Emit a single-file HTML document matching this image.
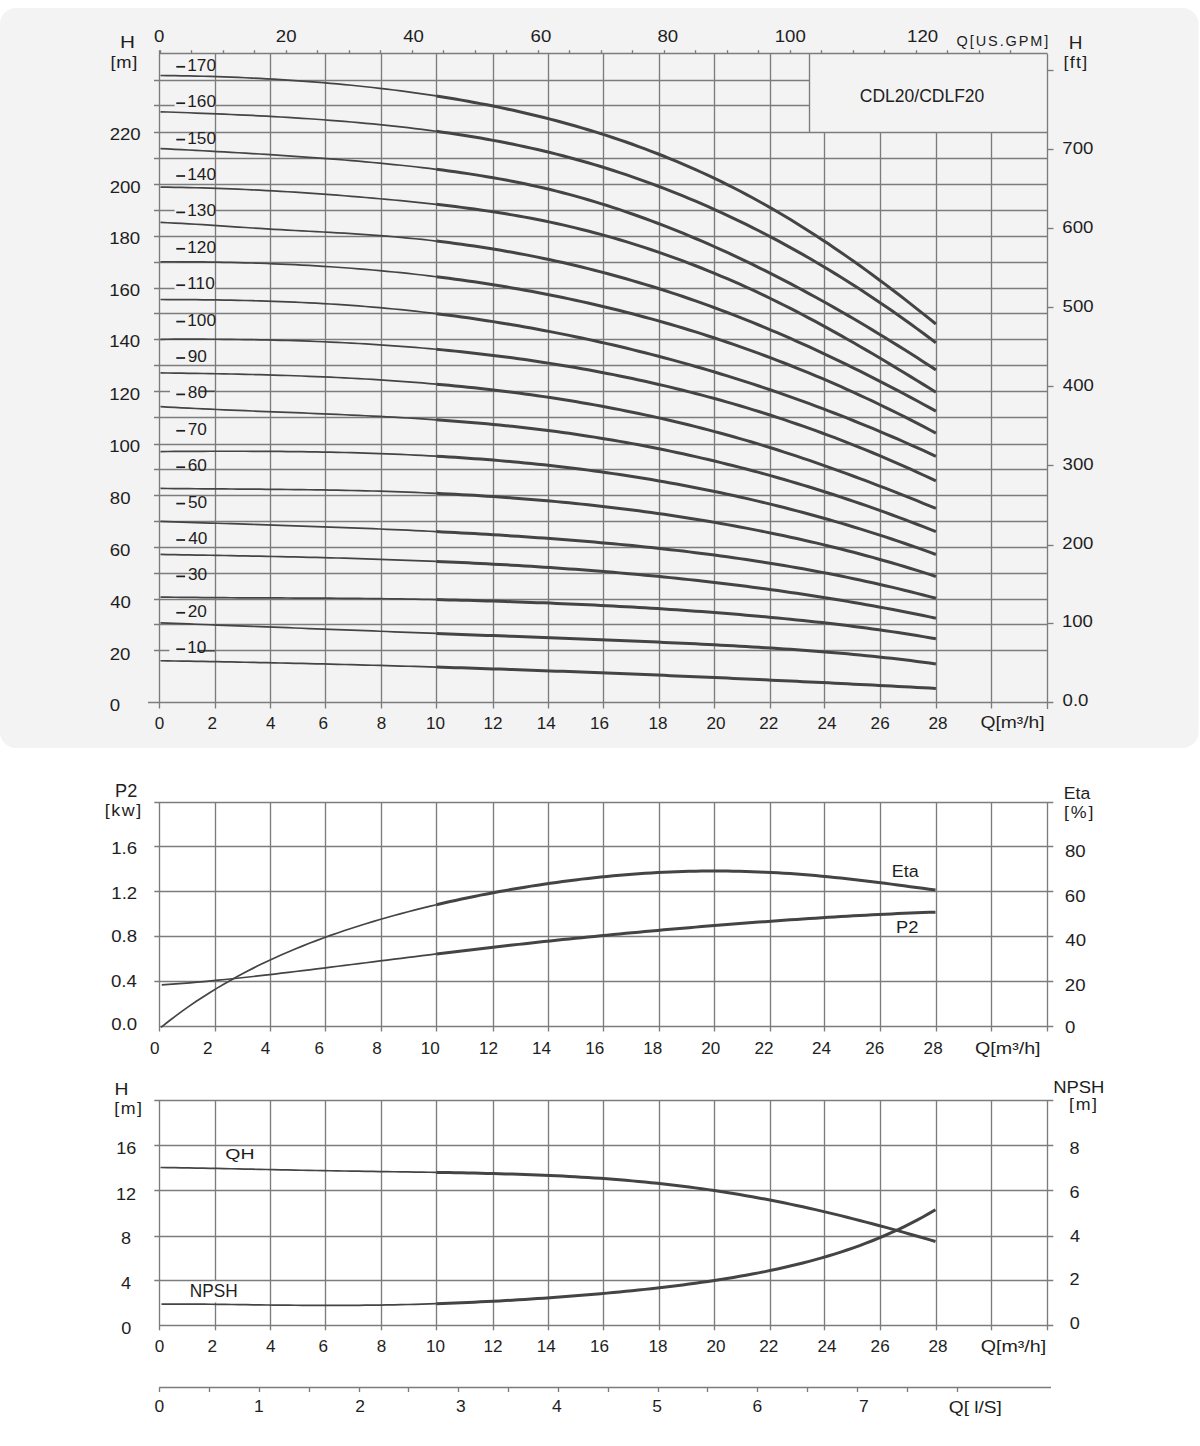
<!DOCTYPE html>
<html><head><meta charset="utf-8"><style>
html,body{margin:0;padding:0;background:#fff;}
svg{display:block;}
text{font-family:"Liberation Sans",sans-serif;}
</style></head><body>
<svg width="1200" height="1446" viewBox="0 0 1200 1446" shape-rendering="geometricPrecision">
<rect x="0" y="8" width="1198.5" height="740" rx="16" ry="16" fill="#f3f3f3"/>
<line x1="154.00" y1="80.50" x2="809.90" y2="80.50" stroke="#7c7c7c" stroke-width="1.35"/>
<line x1="154.00" y1="105.50" x2="809.90" y2="105.50" stroke="#7c7c7c" stroke-width="1.35"/>
<line x1="154.00" y1="132.50" x2="1047.60" y2="132.50" stroke="#7c7c7c" stroke-width="1.35"/>
<line x1="154.00" y1="158.50" x2="1047.60" y2="158.50" stroke="#7c7c7c" stroke-width="1.35"/>
<line x1="154.00" y1="184.50" x2="1047.60" y2="184.50" stroke="#7c7c7c" stroke-width="1.35"/>
<line x1="154.00" y1="210.50" x2="1047.60" y2="210.50" stroke="#7c7c7c" stroke-width="1.35"/>
<line x1="154.00" y1="236.50" x2="1047.60" y2="236.50" stroke="#7c7c7c" stroke-width="1.35"/>
<line x1="154.00" y1="262.50" x2="1047.60" y2="262.50" stroke="#7c7c7c" stroke-width="1.35"/>
<line x1="154.00" y1="288.50" x2="1047.60" y2="288.50" stroke="#7c7c7c" stroke-width="1.35"/>
<line x1="154.00" y1="313.50" x2="1047.60" y2="313.50" stroke="#7c7c7c" stroke-width="1.35"/>
<line x1="154.00" y1="339.50" x2="1047.60" y2="339.50" stroke="#7c7c7c" stroke-width="1.35"/>
<line x1="154.00" y1="365.50" x2="1047.60" y2="365.50" stroke="#7c7c7c" stroke-width="1.35"/>
<line x1="154.00" y1="391.50" x2="1047.60" y2="391.50" stroke="#7c7c7c" stroke-width="1.35"/>
<line x1="154.00" y1="417.50" x2="1047.60" y2="417.50" stroke="#7c7c7c" stroke-width="1.35"/>
<line x1="154.00" y1="444.50" x2="1047.60" y2="444.50" stroke="#7c7c7c" stroke-width="1.35"/>
<line x1="154.00" y1="469.50" x2="1047.60" y2="469.50" stroke="#7c7c7c" stroke-width="1.35"/>
<line x1="154.00" y1="495.50" x2="1047.60" y2="495.50" stroke="#7c7c7c" stroke-width="1.35"/>
<line x1="154.00" y1="521.50" x2="1047.60" y2="521.50" stroke="#7c7c7c" stroke-width="1.35"/>
<line x1="154.00" y1="547.50" x2="1047.60" y2="547.50" stroke="#7c7c7c" stroke-width="1.35"/>
<line x1="154.00" y1="573.50" x2="1047.60" y2="573.50" stroke="#7c7c7c" stroke-width="1.35"/>
<line x1="154.00" y1="599.50" x2="1047.60" y2="599.50" stroke="#7c7c7c" stroke-width="1.35"/>
<line x1="154.00" y1="624.50" x2="1047.60" y2="624.50" stroke="#7c7c7c" stroke-width="1.35"/>
<line x1="154.00" y1="650.50" x2="1047.60" y2="650.50" stroke="#7c7c7c" stroke-width="1.35"/>
<line x1="148.00" y1="702.50" x2="1053.30" y2="702.50" stroke="#7c7c7c" stroke-width="1.35"/>
<line x1="159.60" y1="53.50" x2="1047.60" y2="53.50" stroke="#7c7c7c" stroke-width="1.35"/>
<line x1="159.50" y1="50.30" x2="159.50" y2="708.50" stroke="#7c7c7c" stroke-width="1.35"/>
<line x1="215.50" y1="53.90" x2="215.50" y2="708.50" stroke="#7c7c7c" stroke-width="1.35"/>
<line x1="270.50" y1="53.90" x2="270.50" y2="708.50" stroke="#7c7c7c" stroke-width="1.35"/>
<line x1="325.50" y1="53.90" x2="325.50" y2="708.50" stroke="#7c7c7c" stroke-width="1.35"/>
<line x1="381.50" y1="53.90" x2="381.50" y2="708.50" stroke="#7c7c7c" stroke-width="1.35"/>
<line x1="436.50" y1="53.90" x2="436.50" y2="708.50" stroke="#7c7c7c" stroke-width="1.35"/>
<line x1="493.50" y1="53.90" x2="493.50" y2="708.50" stroke="#7c7c7c" stroke-width="1.35"/>
<line x1="548.50" y1="53.90" x2="548.50" y2="708.50" stroke="#7c7c7c" stroke-width="1.35"/>
<line x1="603.50" y1="53.90" x2="603.50" y2="708.50" stroke="#7c7c7c" stroke-width="1.35"/>
<line x1="659.50" y1="53.90" x2="659.50" y2="708.50" stroke="#7c7c7c" stroke-width="1.35"/>
<line x1="714.50" y1="53.90" x2="714.50" y2="708.50" stroke="#7c7c7c" stroke-width="1.35"/>
<line x1="770.50" y1="53.90" x2="770.50" y2="708.50" stroke="#7c7c7c" stroke-width="1.35"/>
<line x1="824.50" y1="132.30" x2="824.50" y2="708.50" stroke="#7c7c7c" stroke-width="1.35"/>
<line x1="880.50" y1="132.30" x2="880.50" y2="708.50" stroke="#7c7c7c" stroke-width="1.35"/>
<line x1="936.50" y1="132.30" x2="936.50" y2="708.50" stroke="#7c7c7c" stroke-width="1.35"/>
<line x1="991.50" y1="132.30" x2="991.50" y2="708.50" stroke="#7c7c7c" stroke-width="1.35"/>
<line x1="1047.50" y1="53.90" x2="1047.50" y2="709.00" stroke="#7c7c7c" stroke-width="1.35"/>
<line x1="809.50" y1="53.90" x2="809.50" y2="132.30" stroke="#7c7c7c" stroke-width="1.35"/>
<line x1="160.50" y1="50.20" x2="160.50" y2="53.90" stroke="#7c7c7c" stroke-width="1.35"/>
<line x1="191.50" y1="50.20" x2="191.50" y2="53.90" stroke="#7c7c7c" stroke-width="1.35"/>
<line x1="223.50" y1="50.20" x2="223.50" y2="53.90" stroke="#7c7c7c" stroke-width="1.35"/>
<line x1="254.50" y1="50.20" x2="254.50" y2="53.90" stroke="#7c7c7c" stroke-width="1.35"/>
<line x1="286.50" y1="50.20" x2="286.50" y2="53.90" stroke="#7c7c7c" stroke-width="1.35"/>
<line x1="317.50" y1="50.20" x2="317.50" y2="53.90" stroke="#7c7c7c" stroke-width="1.35"/>
<line x1="349.50" y1="50.20" x2="349.50" y2="53.90" stroke="#7c7c7c" stroke-width="1.35"/>
<line x1="380.50" y1="50.20" x2="380.50" y2="53.90" stroke="#7c7c7c" stroke-width="1.35"/>
<line x1="412.50" y1="50.20" x2="412.50" y2="53.90" stroke="#7c7c7c" stroke-width="1.35"/>
<line x1="443.50" y1="50.20" x2="443.50" y2="53.90" stroke="#7c7c7c" stroke-width="1.35"/>
<line x1="475.50" y1="50.20" x2="475.50" y2="53.90" stroke="#7c7c7c" stroke-width="1.35"/>
<line x1="506.50" y1="50.20" x2="506.50" y2="53.90" stroke="#7c7c7c" stroke-width="1.35"/>
<line x1="538.50" y1="50.20" x2="538.50" y2="53.90" stroke="#7c7c7c" stroke-width="1.35"/>
<line x1="569.50" y1="50.20" x2="569.50" y2="53.90" stroke="#7c7c7c" stroke-width="1.35"/>
<line x1="601.50" y1="50.20" x2="601.50" y2="53.90" stroke="#7c7c7c" stroke-width="1.35"/>
<line x1="632.50" y1="50.20" x2="632.50" y2="53.90" stroke="#7c7c7c" stroke-width="1.35"/>
<line x1="664.50" y1="50.20" x2="664.50" y2="53.90" stroke="#7c7c7c" stroke-width="1.35"/>
<line x1="695.50" y1="50.20" x2="695.50" y2="53.90" stroke="#7c7c7c" stroke-width="1.35"/>
<line x1="727.50" y1="50.20" x2="727.50" y2="53.90" stroke="#7c7c7c" stroke-width="1.35"/>
<line x1="758.50" y1="50.20" x2="758.50" y2="53.90" stroke="#7c7c7c" stroke-width="1.35"/>
<line x1="790.50" y1="50.20" x2="790.50" y2="53.90" stroke="#7c7c7c" stroke-width="1.35"/>
<line x1="821.50" y1="50.20" x2="821.50" y2="53.90" stroke="#7c7c7c" stroke-width="1.35"/>
<line x1="853.50" y1="50.20" x2="853.50" y2="53.90" stroke="#7c7c7c" stroke-width="1.35"/>
<line x1="884.50" y1="50.20" x2="884.50" y2="53.90" stroke="#7c7c7c" stroke-width="1.35"/>
<line x1="916.50" y1="50.20" x2="916.50" y2="53.90" stroke="#7c7c7c" stroke-width="1.35"/>
<line x1="947.50" y1="50.20" x2="947.50" y2="53.90" stroke="#7c7c7c" stroke-width="1.35"/>
<line x1="979.50" y1="50.20" x2="979.50" y2="53.90" stroke="#7c7c7c" stroke-width="1.35"/>
<line x1="1010.50" y1="50.20" x2="1010.50" y2="53.90" stroke="#7c7c7c" stroke-width="1.35"/>
<line x1="1047.60" y1="623.50" x2="1053.50" y2="623.50" stroke="#7c7c7c" stroke-width="1.35"/>
<line x1="1047.60" y1="545.50" x2="1053.50" y2="545.50" stroke="#7c7c7c" stroke-width="1.35"/>
<line x1="1047.60" y1="465.50" x2="1053.50" y2="465.50" stroke="#7c7c7c" stroke-width="1.35"/>
<line x1="1047.60" y1="386.50" x2="1053.50" y2="386.50" stroke="#7c7c7c" stroke-width="1.35"/>
<line x1="1047.60" y1="307.50" x2="1053.50" y2="307.50" stroke="#7c7c7c" stroke-width="1.35"/>
<line x1="1047.60" y1="228.50" x2="1053.50" y2="228.50" stroke="#7c7c7c" stroke-width="1.35"/>
<line x1="1047.60" y1="149.50" x2="1053.50" y2="149.50" stroke="#7c7c7c" stroke-width="1.35"/>
<line x1="1047.60" y1="70.50" x2="1053.50" y2="70.50" stroke="#7c7c7c" stroke-width="1.35"/>
<rect x="174.60" y="208.60" width="39.80" height="3.20" fill="#f3f3f3"/>
<rect x="174.60" y="286.60" width="39.80" height="3.20" fill="#f3f3f3"/>
<rect x="174.60" y="103.50" width="39.80" height="3.20" fill="#f3f3f3"/>
<rect x="170.00" y="389.70" width="30.00" height="3.20" fill="#f3f3f3"/>
<line x1="200.00" y1="391.30" x2="214.80" y2="391.30" stroke="#444444" stroke-width="1.5"/>
<rect x="169.30" y="649.20" width="28.00" height="3.20" fill="#f3f3f3"/>
<line x1="197.30" y1="650.80" x2="214.80" y2="650.80" stroke="#444444" stroke-width="1.5"/>
<path d="M160.50,75.49 L167.57,75.56 L174.64,75.66 L181.72,75.78 L188.79,75.91 L195.86,76.07 L202.93,76.24 L210.00,76.44 L217.07,76.65 L224.15,76.89 L231.22,77.15 L238.29,77.43 L245.36,77.74 L252.43,78.06 L259.51,78.41 L266.58,78.79 L273.65,79.18 L280.72,79.61 L287.79,80.05 L294.86,80.53 L301.94,81.03 L309.01,81.55 L316.08,82.10 L323.15,82.68 L330.22,83.28 L337.29,83.92 L344.37,84.58 L351.44,85.27 L358.51,85.99 L365.58,86.73 L372.65,87.51 L379.73,88.32 L386.80,89.16 L393.87,90.03 L400.94,90.93 L408.01,91.87 L415.08,92.84 L422.16,93.84 L429.23,94.88 L436.30,95.96" fill="none" stroke="#444444" stroke-width="1.7" stroke-linejoin="round"/>
<path d="M436.30,95.96 L442.62,96.95 L448.95,97.98 L455.27,99.04 L461.60,100.13 L467.92,101.25 L474.24,102.41 L480.57,103.60 L486.89,104.83 L493.22,106.09 L499.54,107.39 L505.86,108.72 L512.19,110.09 L518.51,111.51 L524.84,112.95 L531.16,114.44 L537.48,115.97 L543.81,117.54 L550.13,119.16 L556.46,120.81 L562.78,122.51 L569.11,124.25 L575.43,126.03 L581.75,127.87 L588.08,129.75 L594.40,131.67 L600.73,133.65 L607.05,135.67 L613.37,137.74 L619.70,139.87 L626.02,142.04 L632.35,144.27 L638.67,146.55 L644.99,148.89 L651.32,151.28 L657.64,153.73 L663.97,156.23 L670.29,158.79 L676.61,161.41 L682.94,164.09 L689.26,166.83 L695.59,169.64 L701.91,172.50 L708.23,175.43 L714.56,178.42 L720.88,181.47 L727.21,184.59 L733.53,187.78 L739.85,191.03 L746.18,194.35 L752.50,197.75 L758.83,201.21 L765.15,204.74 L771.47,208.34 L777.80,212.01 L784.12,215.76 L790.45,219.57 L796.77,223.46 L803.09,227.41 L809.42,231.43 L815.74,235.51 L822.07,239.66 L828.39,243.87 L834.72,248.14 L841.04,252.47 L847.36,256.86 L853.69,261.31 L860.01,265.82 L866.34,270.39 L872.66,275.01 L878.98,279.68 L885.31,284.41 L891.63,289.19 L897.96,294.02 L904.28,298.90 L910.60,303.83 L916.93,308.81 L923.25,313.83 L929.58,318.90 L935.90,324.02" fill="none" stroke="#444444" stroke-width="3.0" stroke-linejoin="round"/>
<path d="M160.50,111.78 L167.57,112.02 L174.64,112.27 L181.72,112.52 L188.79,112.77 L195.86,113.04 L202.93,113.31 L210.00,113.59 L217.07,113.87 L224.15,114.17 L231.22,114.48 L238.29,114.80 L245.36,115.13 L252.43,115.47 L259.51,115.83 L266.58,116.20 L273.65,116.59 L280.72,116.99 L287.79,117.41 L294.86,117.84 L301.94,118.29 L309.01,118.76 L316.08,119.25 L323.15,119.77 L330.22,120.30 L337.29,120.85 L344.37,121.42 L351.44,122.02 L358.51,122.64 L365.58,123.29 L372.65,123.96 L379.73,124.65 L386.80,125.37 L393.87,126.12 L400.94,126.90 L408.01,127.71 L415.08,128.55 L422.16,129.43 L429.23,130.34 L436.30,131.28" fill="none" stroke="#444444" stroke-width="1.7" stroke-linejoin="round"/>
<path d="M436.30,131.28 L442.62,132.16 L448.95,133.07 L455.27,134.01 L461.60,134.98 L467.92,135.99 L474.24,137.03 L480.57,138.10 L486.89,139.22 L493.22,140.37 L499.54,141.55 L505.86,142.78 L512.19,144.05 L518.51,145.36 L524.84,146.72 L531.16,148.11 L537.48,149.55 L543.81,151.04 L550.13,152.57 L556.46,154.15 L562.78,155.78 L569.11,157.45 L575.43,159.18 L581.75,160.95 L588.08,162.76 L594.40,164.63 L600.73,166.55 L607.05,168.51 L613.37,170.52 L619.70,172.59 L626.02,174.70 L632.35,176.86 L638.67,179.07 L644.99,181.33 L651.32,183.64 L657.64,186.00 L663.97,188.41 L670.29,190.87 L676.61,193.39 L682.94,195.95 L689.26,198.57 L695.59,201.23 L701.91,203.95 L708.23,206.72 L714.56,209.55 L720.88,212.42 L727.21,215.35 L733.53,218.33 L739.85,221.36 L746.18,224.45 L752.50,227.59 L758.83,230.78 L765.15,234.03 L771.47,237.33 L777.80,240.68 L784.12,244.09 L790.45,247.56 L796.77,251.08 L803.09,254.65 L809.42,258.28 L815.74,261.96 L822.07,265.70 L828.39,269.50 L834.72,273.35 L841.04,277.25 L847.36,281.22 L853.69,285.24 L860.01,289.31 L866.34,293.45 L872.66,297.64 L878.98,301.88 L885.31,306.19 L891.63,310.55 L897.96,314.97 L904.28,319.45 L910.60,323.99 L916.93,328.59 L923.25,333.24 L929.58,337.95 L935.90,342.73" fill="none" stroke="#444444" stroke-width="3.0" stroke-linejoin="round"/>
<path d="M160.50,148.54 L167.57,148.91 L174.64,149.28 L181.72,149.65 L188.79,150.02 L195.86,150.40 L202.93,150.77 L210.00,151.16 L217.07,151.54 L224.15,151.94 L231.22,152.34 L238.29,152.74 L245.36,153.16 L252.43,153.58 L259.51,154.00 L266.58,154.44 L273.65,154.89 L280.72,155.35 L287.79,155.82 L294.86,156.29 L301.94,156.79 L309.01,157.29 L316.08,157.81 L323.15,158.34 L330.22,158.88 L337.29,159.44 L344.37,160.02 L351.44,160.61 L358.51,161.22 L365.58,161.84 L372.65,162.48 L379.73,163.15 L386.80,163.83 L393.87,164.53 L400.94,165.25 L408.01,166.00 L415.08,166.78 L422.16,167.58 L429.23,168.42 L436.30,169.29" fill="none" stroke="#444444" stroke-width="1.7" stroke-linejoin="round"/>
<path d="M436.30,169.29 L442.62,170.10 L448.95,170.94 L455.27,171.80 L461.60,172.71 L467.92,173.64 L474.24,174.61 L480.57,175.62 L486.89,176.66 L493.22,177.75 L499.54,178.88 L505.86,180.05 L512.19,181.26 L518.51,182.52 L524.84,183.83 L531.16,185.19 L537.48,186.59 L543.81,188.05 L550.13,189.56 L556.46,191.13 L562.78,192.75 L569.11,194.42 L575.43,196.14 L581.75,197.92 L588.08,199.75 L594.40,201.63 L600.73,203.57 L607.05,205.55 L613.37,207.59 L619.70,209.67 L626.02,211.81 L632.35,214.00 L638.67,216.23 L644.99,218.51 L651.32,220.85 L657.64,223.23 L663.97,225.65 L670.29,228.13 L676.61,230.65 L682.94,233.22 L689.26,235.84 L695.59,238.50 L701.91,241.20 L708.23,243.95 L714.56,246.75 L720.88,249.59 L727.21,252.48 L733.53,255.40 L739.85,258.38 L746.18,261.39 L752.50,264.45 L758.83,267.55 L765.15,270.69 L771.47,273.87 L777.80,277.09 L784.12,280.35 L790.45,283.66 L796.77,287.00 L803.09,290.38 L809.42,293.81 L815.74,297.27 L822.07,300.77 L828.39,304.30 L834.72,307.88 L841.04,311.49 L847.36,315.14 L853.69,318.82 L860.01,322.54 L866.34,326.30 L872.66,330.09 L878.98,333.92 L885.31,337.78 L891.63,341.68 L897.96,345.61 L904.28,349.57 L910.60,353.57 L916.93,357.60 L923.25,361.66 L929.58,365.75 L935.90,369.87" fill="none" stroke="#444444" stroke-width="3.0" stroke-linejoin="round"/>
<path d="M160.50,187.12 L167.57,187.20 L174.64,187.30 L181.72,187.42 L188.79,187.57 L195.86,187.74 L202.93,187.92 L210.00,188.14 L217.07,188.37 L224.15,188.62 L231.22,188.89 L238.29,189.18 L245.36,189.50 L252.43,189.83 L259.51,190.18 L266.58,190.55 L273.65,190.94 L280.72,191.34 L287.79,191.77 L294.86,192.21 L301.94,192.67 L309.01,193.14 L316.08,193.63 L323.15,194.14 L330.22,194.66 L337.29,195.20 L344.37,195.75 L351.44,196.32 L358.51,196.90 L365.58,197.50 L372.65,198.11 L379.73,198.73 L386.80,199.37 L393.87,200.02 L400.94,200.69 L408.01,201.37 L415.08,202.08 L422.16,202.81 L429.23,203.56 L436.30,204.34" fill="none" stroke="#444444" stroke-width="1.7" stroke-linejoin="round"/>
<path d="M436.30,204.34 L442.62,205.06 L448.95,205.81 L455.27,206.58 L461.60,207.38 L467.92,208.20 L474.24,209.06 L480.57,209.94 L486.89,210.86 L493.22,211.81 L499.54,212.80 L505.86,213.82 L512.19,214.88 L518.51,215.98 L524.84,217.12 L531.16,218.31 L537.48,219.53 L543.81,220.81 L550.13,222.12 L556.46,223.49 L562.78,224.90 L569.11,226.36 L575.43,227.87 L581.75,229.43 L588.08,231.03 L594.40,232.68 L600.73,234.38 L607.05,236.13 L613.37,237.93 L619.70,239.77 L626.02,241.67 L632.35,243.61 L638.67,245.60 L644.99,247.64 L651.32,249.73 L657.64,251.87 L663.97,254.06 L670.29,256.30 L676.61,258.59 L682.94,260.93 L689.26,263.32 L695.59,265.76 L701.91,268.25 L708.23,270.79 L714.56,273.38 L720.88,276.02 L727.21,278.71 L733.53,281.45 L739.85,284.24 L746.18,287.09 L752.50,289.98 L758.83,292.93 L765.15,295.93 L771.47,298.98 L777.80,302.08 L784.12,305.23 L790.45,308.43 L796.77,311.68 L803.09,314.97 L809.42,318.31 L815.74,321.69 L822.07,325.12 L828.39,328.58 L834.72,332.08 L841.04,335.62 L847.36,339.19 L853.69,342.80 L860.01,346.45 L866.34,350.12 L872.66,353.83 L878.98,357.56 L885.31,361.32 L891.63,365.11 L897.96,368.92 L904.28,372.76 L910.60,376.61 L916.93,380.49 L923.25,384.39 L929.58,388.30 L935.90,392.24" fill="none" stroke="#444444" stroke-width="3.0" stroke-linejoin="round"/>
<path d="M160.50,222.44 L167.57,222.75 L174.64,223.09 L181.72,223.46 L188.79,223.85 L195.86,224.27 L202.93,224.70 L210.00,225.16 L217.07,225.62 L224.15,226.09 L231.22,226.56 L238.29,227.04 L245.36,227.51 L252.43,227.98 L259.51,228.43 L266.58,228.88 L273.65,229.30 L280.72,229.71 L287.79,230.11 L294.86,230.50 L301.94,230.88 L309.01,231.26 L316.08,231.63 L323.15,232.01 L330.22,232.40 L337.29,232.80 L344.37,233.21 L351.44,233.64 L358.51,234.08 L365.58,234.55 L372.65,235.05 L379.73,235.58 L386.80,236.14 L393.87,236.74 L400.94,237.37 L408.01,238.03 L415.08,238.73 L422.16,239.47 L429.23,240.25 L436.30,241.06" fill="none" stroke="#444444" stroke-width="1.7" stroke-linejoin="round"/>
<path d="M436.30,241.06 L442.62,241.82 L448.95,242.61 L455.27,243.43 L461.60,244.29 L467.92,245.17 L474.24,246.09 L480.57,247.04 L486.89,248.03 L493.22,249.05 L499.54,250.10 L505.86,251.19 L512.19,252.31 L518.51,253.46 L524.84,254.65 L531.16,255.88 L537.48,257.15 L543.81,258.45 L550.13,259.79 L556.46,261.16 L562.78,262.57 L569.11,264.02 L575.43,265.51 L581.75,267.04 L588.08,268.60 L594.40,270.20 L600.73,271.84 L607.05,273.51 L613.37,275.23 L619.70,276.98 L626.02,278.76 L632.35,280.59 L638.67,282.45 L644.99,284.35 L651.32,286.29 L657.64,288.26 L663.97,290.28 L670.29,292.33 L676.61,294.42 L682.94,296.54 L689.26,298.71 L695.59,300.91 L701.91,303.15 L708.23,305.42 L714.56,307.74 L720.88,310.09 L727.21,312.48 L733.53,314.91 L739.85,317.38 L746.18,319.88 L752.50,322.42 L758.83,325.00 L765.15,327.62 L771.47,330.27 L777.80,332.97 L784.12,335.70 L790.45,338.46 L796.77,341.27 L803.09,344.11 L809.42,346.98 L815.74,349.89 L822.07,352.84 L828.39,355.81 L834.72,358.83 L841.04,361.87 L847.36,364.95 L853.69,368.06 L860.01,371.20 L866.34,374.37 L872.66,377.57 L878.98,380.80 L885.31,384.06 L891.63,387.35 L897.96,390.67 L904.28,394.02 L910.60,397.40 L916.93,400.80 L923.25,404.23 L929.58,407.68 L935.90,411.16" fill="none" stroke="#444444" stroke-width="3.0" stroke-linejoin="round"/>
<path d="M160.50,261.75 L167.57,261.74 L174.64,261.75 L181.72,261.78 L188.79,261.82 L195.86,261.88 L202.93,261.96 L210.00,262.06 L217.07,262.17 L224.15,262.30 L231.22,262.45 L238.29,262.62 L245.36,262.81 L252.43,263.02 L259.51,263.25 L266.58,263.50 L273.65,263.78 L280.72,264.07 L287.79,264.39 L294.86,264.72 L301.94,265.08 L309.01,265.47 L316.08,265.87 L323.15,266.30 L330.22,266.76 L337.29,267.24 L344.37,267.74 L351.44,268.27 L358.51,268.82 L365.58,269.40 L372.65,270.01 L379.73,270.64 L386.80,271.30 L393.87,271.99 L400.94,272.71 L408.01,273.45 L415.08,274.22 L422.16,275.03 L429.23,275.86 L436.30,276.72" fill="none" stroke="#444444" stroke-width="1.7" stroke-linejoin="round"/>
<path d="M436.30,276.72 L442.62,277.51 L448.95,278.33 L455.27,279.17 L461.60,280.04 L467.92,280.93 L474.24,281.85 L480.57,282.80 L486.89,283.77 L493.22,284.76 L499.54,285.79 L505.86,286.84 L512.19,287.91 L518.51,289.02 L524.84,290.15 L531.16,291.31 L537.48,292.49 L543.81,293.71 L550.13,294.95 L556.46,296.22 L562.78,297.53 L569.11,298.86 L575.43,300.22 L581.75,301.61 L588.08,303.03 L594.40,304.48 L600.73,305.95 L607.05,307.47 L613.37,309.01 L619.70,310.58 L626.02,312.18 L632.35,313.82 L638.67,315.48 L644.99,317.18 L651.32,318.91 L657.64,320.67 L663.97,322.47 L670.29,324.29 L676.61,326.15 L682.94,328.05 L689.26,329.97 L695.59,331.93 L701.91,333.93 L708.23,335.95 L714.56,338.01 L720.88,340.11 L727.21,342.24 L733.53,344.41 L739.85,346.61 L746.18,348.84 L752.50,351.11 L758.83,353.42 L765.15,355.76 L771.47,358.14 L777.80,360.55 L784.12,363.00 L790.45,365.49 L796.77,368.02 L803.09,370.58 L809.42,373.17 L815.74,375.81 L822.07,378.48 L828.39,381.19 L834.72,383.94 L841.04,386.73 L847.36,389.55 L853.69,392.41 L860.01,395.31 L866.34,398.25 L872.66,401.23 L878.98,404.24 L885.31,407.30 L891.63,410.39 L897.96,413.53 L904.28,416.70 L910.60,419.91 L916.93,423.16 L923.25,426.45 L929.58,429.79 L935.90,433.16" fill="none" stroke="#444444" stroke-width="3.0" stroke-linejoin="round"/>
<path d="M160.50,299.52 L167.57,299.54 L174.64,299.56 L181.72,299.60 L188.79,299.65 L195.86,299.71 L202.93,299.78 L210.00,299.86 L217.07,299.96 L224.15,300.08 L231.22,300.20 L238.29,300.35 L245.36,300.51 L252.43,300.69 L259.51,300.89 L266.58,301.10 L273.65,301.34 L280.72,301.60 L287.79,301.87 L294.86,302.17 L301.94,302.49 L309.01,302.84 L316.08,303.20 L323.15,303.60 L330.22,304.01 L337.29,304.46 L344.37,304.92 L351.44,305.42 L358.51,305.94 L365.58,306.49 L372.65,307.07 L379.73,307.68 L386.80,308.32 L393.87,309.00 L400.94,309.70 L408.01,310.43 L415.08,311.19 L422.16,311.98 L429.23,312.80 L436.30,313.66" fill="none" stroke="#444444" stroke-width="1.7" stroke-linejoin="round"/>
<path d="M436.30,313.66 L442.62,314.45 L448.95,315.26 L455.27,316.10 L461.60,316.96 L467.92,317.85 L474.24,318.76 L480.57,319.69 L486.89,320.66 L493.22,321.64 L499.54,322.65 L505.86,323.68 L512.19,324.74 L518.51,325.83 L524.84,326.94 L531.16,328.07 L537.48,329.23 L543.81,330.41 L550.13,331.62 L556.46,332.85 L562.78,334.10 L569.11,335.39 L575.43,336.69 L581.75,338.02 L588.08,339.38 L594.40,340.77 L600.73,342.17 L607.05,343.61 L613.37,345.07 L619.70,346.55 L626.02,348.07 L632.35,349.60 L638.67,351.17 L644.99,352.76 L651.32,354.37 L657.64,356.02 L663.97,357.69 L670.29,359.38 L676.61,361.11 L682.94,362.86 L689.26,364.64 L695.59,366.44 L701.91,368.27 L708.23,370.13 L714.56,372.02 L720.88,373.94 L727.21,375.88 L733.53,377.85 L739.85,379.85 L746.18,381.88 L752.50,383.93 L758.83,386.01 L765.15,388.13 L771.47,390.27 L777.80,392.43 L784.12,394.63 L790.45,396.86 L796.77,399.11 L803.09,401.40 L809.42,403.71 L815.74,406.06 L822.07,408.43 L828.39,410.83 L834.72,413.26 L841.04,415.72 L847.36,418.22 L853.69,420.74 L860.01,423.29 L866.34,425.87 L872.66,428.48 L878.98,431.13 L885.31,433.80 L891.63,436.50 L897.96,439.24 L904.28,442.00 L910.60,444.80 L916.93,447.63 L923.25,450.48 L929.58,453.37 L935.90,456.30" fill="none" stroke="#444444" stroke-width="3.0" stroke-linejoin="round"/>
<path d="M160.50,339.29 L167.57,339.25 L174.64,339.21 L181.72,339.19 L188.79,339.18 L195.86,339.18 L202.93,339.20 L210.00,339.23 L217.07,339.27 L224.15,339.33 L231.22,339.39 L238.29,339.48 L245.36,339.58 L252.43,339.69 L259.51,339.82 L266.58,339.97 L273.65,340.13 L280.72,340.31 L287.79,340.51 L294.86,340.72 L301.94,340.96 L309.01,341.21 L316.08,341.48 L323.15,341.76 L330.22,342.07 L337.29,342.40 L344.37,342.75 L351.44,343.12 L358.51,343.51 L365.58,343.92 L372.65,344.35 L379.73,344.80 L386.80,345.28 L393.87,345.78 L400.94,346.30 L408.01,346.85 L415.08,347.42 L422.16,348.01 L429.23,348.63 L436.30,349.27" fill="none" stroke="#444444" stroke-width="1.7" stroke-linejoin="round"/>
<path d="M436.30,349.27 L442.62,349.87 L448.95,350.49 L455.27,351.13 L461.60,351.79 L467.92,352.47 L474.24,353.17 L480.57,353.90 L486.89,354.64 L493.22,355.41 L499.54,356.21 L505.86,357.02 L512.19,357.86 L518.51,358.72 L524.84,359.61 L531.16,360.52 L537.48,361.45 L543.81,362.41 L550.13,363.39 L556.46,364.40 L562.78,365.44 L569.11,366.50 L575.43,367.58 L581.75,368.69 L588.08,369.83 L594.40,371.00 L600.73,372.19 L607.05,373.41 L613.37,374.65 L619.70,375.93 L626.02,377.23 L632.35,378.56 L638.67,379.92 L644.99,381.31 L651.32,382.73 L657.64,384.17 L663.97,385.65 L670.29,387.16 L676.61,388.69 L682.94,390.26 L689.26,391.86 L695.59,393.48 L701.91,395.14 L708.23,396.84 L714.56,398.56 L720.88,400.31 L727.21,402.10 L733.53,403.92 L739.85,405.77 L746.18,407.66 L752.50,409.58 L758.83,411.53 L765.15,413.52 L771.47,415.54 L777.80,417.60 L784.12,419.69 L790.45,421.81 L796.77,423.97 L803.09,426.17 L809.42,428.40 L815.74,430.67 L822.07,432.97 L828.39,435.31 L834.72,437.69 L841.04,440.11 L847.36,442.56 L853.69,445.05 L860.01,447.58 L866.34,450.14 L872.66,452.75 L878.98,455.39 L885.31,458.07 L891.63,460.79 L897.96,463.56 L904.28,466.36 L910.60,469.20 L916.93,472.08 L923.25,475.00 L929.58,477.96 L935.90,480.97" fill="none" stroke="#444444" stroke-width="3.0" stroke-linejoin="round"/>
<path d="M160.50,372.94 L167.57,373.02 L174.64,373.11 L181.72,373.20 L188.79,373.29 L195.86,373.40 L202.93,373.51 L210.00,373.62 L217.07,373.75 L224.15,373.88 L231.22,374.02 L238.29,374.17 L245.36,374.33 L252.43,374.50 L259.51,374.68 L266.58,374.87 L273.65,375.08 L280.72,375.29 L287.79,375.52 L294.86,375.76 L301.94,376.02 L309.01,376.29 L316.08,376.57 L323.15,376.87 L330.22,377.19 L337.29,377.52 L344.37,377.87 L351.44,378.23 L358.51,378.61 L365.58,379.02 L372.65,379.44 L379.73,379.88 L386.80,380.33 L393.87,380.81 L400.94,381.31 L408.01,381.83 L415.08,382.38 L422.16,382.94 L429.23,383.53 L436.30,384.14" fill="none" stroke="#444444" stroke-width="1.7" stroke-linejoin="round"/>
<path d="M436.30,384.14 L442.62,384.70 L448.95,385.29 L455.27,385.89 L461.60,386.52 L467.92,387.16 L474.24,387.83 L480.57,388.52 L486.89,389.23 L493.22,389.96 L499.54,390.71 L505.86,391.48 L512.19,392.28 L518.51,393.10 L524.84,393.95 L531.16,394.81 L537.48,395.71 L543.81,396.62 L550.13,397.57 L556.46,398.53 L562.78,399.53 L569.11,400.54 L575.43,401.59 L581.75,402.66 L588.08,403.76 L594.40,404.88 L600.73,406.03 L607.05,407.21 L613.37,408.41 L619.70,409.65 L626.02,410.91 L632.35,412.20 L638.67,413.51 L644.99,414.86 L651.32,416.23 L657.64,417.63 L663.97,419.06 L670.29,420.52 L676.61,422.01 L682.94,423.53 L689.26,425.08 L695.59,426.66 L701.91,428.27 L708.23,429.91 L714.56,431.58 L720.88,433.28 L727.21,435.02 L733.53,436.78 L739.85,438.58 L746.18,440.41 L752.50,442.27 L758.83,444.16 L765.15,446.09 L771.47,448.04 L777.80,450.03 L784.12,452.06 L790.45,454.11 L796.77,456.20 L803.09,458.31 L809.42,460.45 L815.74,462.63 L822.07,464.83 L828.39,467.06 L834.72,469.31 L841.04,471.59 L847.36,473.90 L853.69,476.22 L860.01,478.58 L866.34,480.96 L872.66,483.35 L878.98,485.78 L885.31,488.22 L891.63,490.68 L897.96,493.16 L904.28,495.66 L910.60,498.18 L916.93,500.72 L923.25,503.27 L929.58,505.84 L935.90,508.43" fill="none" stroke="#444444" stroke-width="3.0" stroke-linejoin="round"/>
<path d="M160.50,406.63 L167.57,407.03 L174.64,407.42 L181.72,407.80 L188.79,408.16 L195.86,408.51 L202.93,408.85 L210.00,409.18 L217.07,409.50 L224.15,409.81 L231.22,410.12 L238.29,410.42 L245.36,410.71 L252.43,411.00 L259.51,411.29 L266.58,411.57 L273.65,411.85 L280.72,412.13 L287.79,412.41 L294.86,412.69 L301.94,412.97 L309.01,413.26 L316.08,413.55 L323.15,413.84 L330.22,414.13 L337.29,414.44 L344.37,414.75 L351.44,415.07 L358.51,415.39 L365.58,415.73 L372.65,416.08 L379.73,416.43 L386.80,416.80 L393.87,417.19 L400.94,417.58 L408.01,417.99 L415.08,418.42 L422.16,418.87 L429.23,419.33 L436.30,419.81" fill="none" stroke="#444444" stroke-width="1.7" stroke-linejoin="round"/>
<path d="M436.30,419.81 L442.62,420.25 L448.95,420.71 L455.27,421.19 L461.60,421.69 L467.92,422.20 L474.24,422.73 L480.57,423.28 L486.89,423.85 L493.22,424.44 L499.54,425.05 L505.86,425.69 L512.19,426.34 L518.51,427.02 L524.84,427.72 L531.16,428.45 L537.48,429.20 L543.81,429.97 L550.13,430.78 L556.46,431.61 L562.78,432.46 L569.11,433.34 L575.43,434.25 L581.75,435.19 L588.08,436.15 L594.40,437.14 L600.73,438.15 L607.05,439.20 L613.37,440.27 L619.70,441.36 L626.02,442.49 L632.35,443.64 L638.67,444.81 L644.99,446.02 L651.32,447.25 L657.64,448.51 L663.97,449.80 L670.29,451.11 L676.61,452.45 L682.94,453.82 L689.26,455.22 L695.59,456.64 L701.91,458.10 L708.23,459.58 L714.56,461.08 L720.88,462.62 L727.21,464.18 L733.53,465.77 L739.85,467.39 L746.18,469.04 L752.50,470.71 L758.83,472.41 L765.15,474.15 L771.47,475.90 L777.80,477.69 L784.12,479.51 L790.45,481.35 L796.77,483.22 L803.09,485.12 L809.42,487.05 L815.74,489.01 L822.07,491.00 L828.39,493.01 L834.72,495.05 L841.04,497.13 L847.36,499.23 L853.69,501.36 L860.01,503.51 L866.34,505.70 L872.66,507.92 L878.98,510.16 L885.31,512.44 L891.63,514.74 L897.96,517.07 L904.28,519.43 L910.60,521.82 L916.93,524.24 L923.25,526.69 L929.58,529.17 L935.90,531.68" fill="none" stroke="#444444" stroke-width="3.0" stroke-linejoin="round"/>
<path d="M160.50,451.53 L167.57,451.48 L174.64,451.44 L181.72,451.40 L188.79,451.36 L195.86,451.32 L202.93,451.30 L210.00,451.27 L217.07,451.26 L224.15,451.25 L231.22,451.25 L238.29,451.25 L245.36,451.26 L252.43,451.29 L259.51,451.32 L266.58,451.35 L273.65,451.40 L280.72,451.46 L287.79,451.53 L294.86,451.61 L301.94,451.70 L309.01,451.81 L316.08,451.92 L323.15,452.05 L330.22,452.19 L337.29,452.35 L344.37,452.52 L351.44,452.70 L358.51,452.90 L365.58,453.11 L372.65,453.34 L379.73,453.59 L386.80,453.85 L393.87,454.13 L400.94,454.42 L408.01,454.74 L415.08,455.07 L422.16,455.42 L429.23,455.80 L436.30,456.19" fill="none" stroke="#444444" stroke-width="1.7" stroke-linejoin="round"/>
<path d="M436.30,456.19 L442.62,456.55 L448.95,456.94 L455.27,457.33 L461.60,457.75 L467.92,458.19 L474.24,458.64 L480.57,459.11 L486.89,459.59 L493.22,460.10 L499.54,460.63 L505.86,461.17 L512.19,461.73 L518.51,462.32 L524.84,462.92 L531.16,463.55 L537.48,464.19 L543.81,464.86 L550.13,465.55 L556.46,466.26 L562.78,466.99 L569.11,467.74 L575.43,468.51 L581.75,469.31 L588.08,470.13 L594.40,470.98 L600.73,471.84 L607.05,472.73 L613.37,473.64 L619.70,474.58 L626.02,475.53 L632.35,476.52 L638.67,477.52 L644.99,478.55 L651.32,479.60 L657.64,480.68 L663.97,481.78 L670.29,482.91 L676.61,484.06 L682.94,485.24 L689.26,486.44 L695.59,487.67 L701.91,488.92 L708.23,490.19 L714.56,491.50 L720.88,492.83 L727.21,494.18 L733.53,495.56 L739.85,496.97 L746.18,498.40 L752.50,499.86 L758.83,501.35 L765.15,502.86 L771.47,504.40 L777.80,505.97 L784.12,507.57 L790.45,509.19 L796.77,510.84 L803.09,512.52 L809.42,514.22 L815.74,515.96 L822.07,517.72 L828.39,519.51 L834.72,521.33 L841.04,523.18 L847.36,525.06 L853.69,526.97 L860.01,528.90 L866.34,530.87 L872.66,532.86 L878.98,534.89 L885.31,536.94 L891.63,539.03 L897.96,541.14 L904.28,543.29 L910.60,545.47 L916.93,547.67 L923.25,549.91 L929.58,552.18 L935.90,554.48" fill="none" stroke="#444444" stroke-width="3.0" stroke-linejoin="round"/>
<path d="M160.50,488.42 L167.57,488.49 L174.64,488.56 L181.72,488.62 L188.79,488.68 L195.86,488.74 L202.93,488.79 L210.00,488.84 L217.07,488.89 L224.15,488.95 L231.22,489.00 L238.29,489.05 L245.36,489.10 L252.43,489.16 L259.51,489.22 L266.58,489.28 L273.65,489.34 L280.72,489.41 L287.79,489.49 L294.86,489.57 L301.94,489.66 L309.01,489.75 L316.08,489.85 L323.15,489.96 L330.22,490.08 L337.29,490.21 L344.37,490.35 L351.44,490.50 L358.51,490.66 L365.58,490.84 L372.65,491.02 L379.73,491.22 L386.80,491.44 L393.87,491.67 L400.94,491.91 L408.01,492.17 L415.08,492.44 L422.16,492.73 L429.23,493.03 L436.30,493.35" fill="none" stroke="#444444" stroke-width="1.7" stroke-linejoin="round"/>
<path d="M436.30,493.35 L442.62,493.66 L448.95,493.97 L455.27,494.30 L461.60,494.64 L467.92,495.00 L474.24,495.37 L480.57,495.76 L486.89,496.16 L493.22,496.57 L499.54,497.00 L505.86,497.45 L512.19,497.91 L518.51,498.39 L524.84,498.89 L531.16,499.40 L537.48,499.93 L543.81,500.47 L550.13,501.04 L556.46,501.62 L562.78,502.22 L569.11,502.83 L575.43,503.47 L581.75,504.12 L588.08,504.79 L594.40,505.48 L600.73,506.19 L607.05,506.92 L613.37,507.66 L619.70,508.43 L626.02,509.21 L632.35,510.02 L638.67,510.85 L644.99,511.69 L651.32,512.56 L657.64,513.44 L663.97,514.35 L670.29,515.28 L676.61,516.23 L682.94,517.20 L689.26,518.20 L695.59,519.21 L701.91,520.25 L708.23,521.31 L714.56,522.39 L720.88,523.49 L727.21,524.62 L733.53,525.77 L739.85,526.94 L746.18,528.14 L752.50,529.36 L758.83,530.60 L765.15,531.87 L771.47,533.16 L777.80,534.48 L784.12,535.82 L790.45,537.19 L796.77,538.58 L803.09,540.00 L809.42,541.44 L815.74,542.91 L822.07,544.41 L828.39,545.93 L834.72,547.49 L841.04,549.07 L847.36,550.68 L853.69,552.32 L860.01,553.99 L866.34,555.69 L872.66,557.42 L878.98,559.18 L885.31,560.97 L891.63,562.79 L897.96,564.64 L904.28,566.53 L910.60,568.45 L916.93,570.40 L923.25,572.38 L929.58,574.40 L935.90,576.45" fill="none" stroke="#444444" stroke-width="3.0" stroke-linejoin="round"/>
<path d="M160.50,521.46 L167.57,521.69 L174.64,521.92 L181.72,522.15 L188.79,522.37 L195.86,522.60 L202.93,522.82 L210.00,523.05 L217.07,523.27 L224.15,523.50 L231.22,523.72 L238.29,523.95 L245.36,524.17 L252.43,524.40 L259.51,524.63 L266.58,524.86 L273.65,525.09 L280.72,525.33 L287.79,525.56 L294.86,525.80 L301.94,526.05 L309.01,526.29 L316.08,526.54 L323.15,526.79 L330.22,527.05 L337.29,527.31 L344.37,527.58 L351.44,527.85 L358.51,528.13 L365.58,528.41 L372.65,528.69 L379.73,528.99 L386.80,529.29 L393.87,529.59 L400.94,529.90 L408.01,530.22 L415.08,530.55 L422.16,530.88 L429.23,531.23 L436.30,531.58" fill="none" stroke="#444444" stroke-width="1.7" stroke-linejoin="round"/>
<path d="M436.30,531.58 L442.62,531.90 L448.95,532.22 L455.27,532.56 L461.60,532.90 L467.92,533.25 L474.24,533.61 L480.57,533.97 L486.89,534.34 L493.22,534.72 L499.54,535.11 L505.86,535.51 L512.19,535.91 L518.51,536.33 L524.84,536.75 L531.16,537.19 L537.48,537.63 L543.81,538.08 L550.13,538.55 L556.46,539.02 L562.78,539.50 L569.11,540.00 L575.43,540.50 L581.75,541.02 L588.08,541.55 L594.40,542.09 L600.73,542.64 L607.05,543.21 L613.37,543.79 L619.70,544.38 L626.02,544.99 L632.35,545.61 L638.67,546.24 L644.99,546.89 L651.32,547.56 L657.64,548.23 L663.97,548.93 L670.29,549.64 L676.61,550.37 L682.94,551.11 L689.26,551.88 L695.59,552.65 L701.91,553.45 L708.23,554.26 L714.56,555.10 L720.88,555.95 L727.21,556.82 L733.53,557.71 L739.85,558.62 L746.18,559.54 L752.50,560.49 L758.83,561.46 L765.15,562.45 L771.47,563.47 L777.80,564.50 L784.12,565.55 L790.45,566.63 L796.77,567.73 L803.09,568.85 L809.42,570.00 L815.74,571.17 L822.07,572.36 L828.39,573.58 L834.72,574.82 L841.04,576.09 L847.36,577.38 L853.69,578.70 L860.01,580.04 L866.34,581.41 L872.66,582.80 L878.98,584.22 L885.31,585.67 L891.63,587.15 L897.96,588.65 L904.28,590.19 L910.60,591.75 L916.93,593.34 L923.25,594.95 L929.58,596.60 L935.90,598.28" fill="none" stroke="#444444" stroke-width="3.0" stroke-linejoin="round"/>
<path d="M160.50,554.45 L167.57,554.56 L174.64,554.68 L181.72,554.79 L188.79,554.91 L195.86,555.03 L202.93,555.15 L210.00,555.27 L217.07,555.40 L224.15,555.52 L231.22,555.65 L238.29,555.78 L245.36,555.92 L252.43,556.05 L259.51,556.20 L266.58,556.34 L273.65,556.49 L280.72,556.64 L287.79,556.79 L294.86,556.96 L301.94,557.12 L309.01,557.29 L316.08,557.46 L323.15,557.64 L330.22,557.83 L337.29,558.02 L344.37,558.22 L351.44,558.42 L358.51,558.63 L365.58,558.85 L372.65,559.07 L379.73,559.30 L386.80,559.54 L393.87,559.79 L400.94,560.04 L408.01,560.30 L415.08,560.57 L422.16,560.85 L429.23,561.13 L436.30,561.43" fill="none" stroke="#444444" stroke-width="1.7" stroke-linejoin="round"/>
<path d="M436.30,561.43 L442.62,561.70 L448.95,561.98 L455.27,562.26 L461.60,562.56 L467.92,562.86 L474.24,563.17 L480.57,563.49 L486.89,563.81 L493.22,564.15 L499.54,564.49 L505.86,564.85 L512.19,565.21 L518.51,565.58 L524.84,565.96 L531.16,566.35 L537.48,566.75 L543.81,567.16 L550.13,567.57 L556.46,568.00 L562.78,568.44 L569.11,568.89 L575.43,569.35 L581.75,569.82 L588.08,570.30 L594.40,570.80 L600.73,571.30 L607.05,571.82 L613.37,572.34 L619.70,572.88 L626.02,573.43 L632.35,573.99 L638.67,574.57 L644.99,575.15 L651.32,575.75 L657.64,576.36 L663.97,576.99 L670.29,577.63 L676.61,578.28 L682.94,578.94 L689.26,579.62 L695.59,580.31 L701.91,581.01 L708.23,581.73 L714.56,582.47 L720.88,583.21 L727.21,583.97 L733.53,584.75 L739.85,585.54 L746.18,586.34 L752.50,587.16 L758.83,588.00 L765.15,588.85 L771.47,589.72 L777.80,590.60 L784.12,591.50 L790.45,592.41 L796.77,593.34 L803.09,594.29 L809.42,595.25 L815.74,596.23 L822.07,597.22 L828.39,598.24 L834.72,599.26 L841.04,600.31 L847.36,601.38 L853.69,602.46 L860.01,603.56 L866.34,604.67 L872.66,605.81 L878.98,606.96 L885.31,608.14 L891.63,609.33 L897.96,610.53 L904.28,611.76 L910.60,613.01 L916.93,614.28 L923.25,615.56 L929.58,616.86 L935.90,618.19" fill="none" stroke="#444444" stroke-width="3.0" stroke-linejoin="round"/>
<path d="M160.50,597.05 L167.57,597.15 L174.64,597.24 L181.72,597.33 L188.79,597.40 L195.86,597.47 L202.93,597.54 L210.00,597.60 L217.07,597.65 L224.15,597.70 L231.22,597.74 L238.29,597.78 L245.36,597.82 L252.43,597.85 L259.51,597.88 L266.58,597.91 L273.65,597.94 L280.72,597.97 L287.79,598.00 L294.86,598.03 L301.94,598.07 L309.01,598.10 L316.08,598.14 L323.15,598.17 L330.22,598.22 L337.29,598.26 L344.37,598.32 L351.44,598.37 L358.51,598.43 L365.58,598.50 L372.65,598.58 L379.73,598.66 L386.80,598.75 L393.87,598.85 L400.94,598.96 L408.01,599.07 L415.08,599.20 L422.16,599.33 L429.23,599.47 L436.30,599.61" fill="none" stroke="#444444" stroke-width="1.7" stroke-linejoin="round"/>
<path d="M436.30,599.61 L442.62,599.75 L448.95,599.90 L455.27,600.05 L461.60,600.21 L467.92,600.37 L474.24,600.54 L480.57,600.72 L486.89,600.91 L493.22,601.10 L499.54,601.30 L505.86,601.50 L512.19,601.71 L518.51,601.93 L524.84,602.16 L531.16,602.39 L537.48,602.63 L543.81,602.87 L550.13,603.12 L556.46,603.38 L562.78,603.65 L569.11,603.92 L575.43,604.20 L581.75,604.49 L588.08,604.79 L594.40,605.09 L600.73,605.40 L607.05,605.72 L613.37,606.05 L619.70,606.39 L626.02,606.73 L632.35,607.08 L638.67,607.45 L644.99,607.82 L651.32,608.20 L657.64,608.59 L663.97,608.99 L670.29,609.40 L676.61,609.82 L682.94,610.25 L689.26,610.69 L695.59,611.14 L701.91,611.60 L708.23,612.07 L714.56,612.56 L720.88,613.05 L727.21,613.55 L733.53,614.07 L739.85,614.60 L746.18,615.14 L752.50,615.69 L758.83,616.25 L765.15,616.82 L771.47,617.41 L777.80,618.01 L784.12,618.62 L790.45,619.25 L796.77,619.89 L803.09,620.55 L809.42,621.22 L815.74,621.91 L822.07,622.61 L828.39,623.33 L834.72,624.07 L841.04,624.83 L847.36,625.61 L853.69,626.40 L860.01,627.22 L866.34,628.05 L872.66,628.91 L878.98,629.79 L885.31,630.69 L891.63,631.62 L897.96,632.57 L904.28,633.54 L910.60,634.54 L916.93,635.56 L923.25,636.61 L929.58,637.69 L935.90,638.79" fill="none" stroke="#444444" stroke-width="3.0" stroke-linejoin="round"/>
<path d="M160.50,622.90 L167.57,623.17 L174.64,623.43 L181.72,623.70 L188.79,623.96 L195.86,624.23 L202.93,624.49 L210.00,624.76 L217.07,625.03 L224.15,625.29 L231.22,625.56 L238.29,625.83 L245.36,626.10 L252.43,626.37 L259.51,626.63 L266.58,626.90 L273.65,627.17 L280.72,627.44 L287.79,627.71 L294.86,627.98 L301.94,628.25 L309.01,628.53 L316.08,628.80 L323.15,629.07 L330.22,629.34 L337.29,629.61 L344.37,629.88 L351.44,630.16 L358.51,630.43 L365.58,630.70 L372.65,630.97 L379.73,631.25 L386.80,631.52 L393.87,631.79 L400.94,632.06 L408.01,632.34 L415.08,632.61 L422.16,632.88 L429.23,633.15 L436.30,633.43" fill="none" stroke="#444444" stroke-width="1.7" stroke-linejoin="round"/>
<path d="M436.30,633.43 L442.62,633.67 L448.95,633.91 L455.27,634.16 L461.60,634.40 L467.92,634.65 L474.24,634.89 L480.57,635.13 L486.89,635.38 L493.22,635.62 L499.54,635.86 L505.86,636.10 L512.19,636.35 L518.51,636.59 L524.84,636.83 L531.16,637.07 L537.48,637.32 L543.81,637.56 L550.13,637.80 L556.46,638.04 L562.78,638.28 L569.11,638.52 L575.43,638.77 L581.75,639.01 L588.08,639.26 L594.40,639.50 L600.73,639.75 L607.05,640.00 L613.37,640.25 L619.70,640.51 L626.02,640.77 L632.35,641.03 L638.67,641.29 L644.99,641.56 L651.32,641.83 L657.64,642.11 L663.97,642.39 L670.29,642.67 L676.61,642.96 L682.94,643.26 L689.26,643.56 L695.59,643.87 L701.91,644.18 L708.23,644.50 L714.56,644.83 L720.88,645.16 L727.21,645.50 L733.53,645.85 L739.85,646.21 L746.18,646.57 L752.50,646.95 L758.83,647.33 L765.15,647.72 L771.47,648.12 L777.80,648.52 L784.12,648.94 L790.45,649.37 L796.77,649.82 L803.09,650.27 L809.42,650.74 L815.74,651.22 L822.07,651.71 L828.39,652.22 L834.72,652.75 L841.04,653.30 L847.36,653.86 L853.69,654.44 L860.01,655.04 L866.34,655.66 L872.66,656.29 L878.98,656.96 L885.31,657.64 L891.63,658.34 L897.96,659.07 L904.28,659.82 L910.60,660.60 L916.93,661.40 L923.25,662.23 L929.58,663.09 L935.90,663.97" fill="none" stroke="#444444" stroke-width="3.0" stroke-linejoin="round"/>
<path d="M160.50,660.77 L167.57,660.88 L174.64,660.99 L181.72,661.10 L188.79,661.21 L195.86,661.33 L202.93,661.45 L210.00,661.58 L217.07,661.71 L224.15,661.84 L231.22,661.97 L238.29,662.11 L245.36,662.25 L252.43,662.39 L259.51,662.53 L266.58,662.68 L273.65,662.83 L280.72,662.99 L287.79,663.14 L294.86,663.30 L301.94,663.46 L309.01,663.63 L316.08,663.80 L323.15,663.97 L330.22,664.14 L337.29,664.32 L344.37,664.50 L351.44,664.68 L358.51,664.87 L365.58,665.05 L372.65,665.24 L379.73,665.44 L386.80,665.63 L393.87,665.83 L400.94,666.03 L408.01,666.24 L415.08,666.44 L422.16,666.65 L429.23,666.87 L436.30,667.08" fill="none" stroke="#444444" stroke-width="1.7" stroke-linejoin="round"/>
<path d="M436.30,667.08 L442.62,667.28 L448.95,667.47 L455.27,667.67 L461.60,667.87 L467.92,668.07 L474.24,668.28 L480.57,668.49 L486.89,668.69 L493.22,668.91 L499.54,669.12 L505.86,669.33 L512.19,669.55 L518.51,669.77 L524.84,669.99 L531.16,670.22 L537.48,670.44 L543.81,670.67 L550.13,670.90 L556.46,671.13 L562.78,671.36 L569.11,671.60 L575.43,671.84 L581.75,672.08 L588.08,672.32 L594.40,672.56 L600.73,672.81 L607.05,673.05 L613.37,673.30 L619.70,673.55 L626.02,673.81 L632.35,674.06 L638.67,674.32 L644.99,674.58 L651.32,674.84 L657.64,675.10 L663.97,675.36 L670.29,675.63 L676.61,675.90 L682.94,676.17 L689.26,676.44 L695.59,676.71 L701.91,676.99 L708.23,677.27 L714.56,677.55 L720.88,677.83 L727.21,678.11 L733.53,678.39 L739.85,678.68 L746.18,678.97 L752.50,679.26 L758.83,679.55 L765.15,679.84 L771.47,680.14 L777.80,680.43 L784.12,680.73 L790.45,681.03 L796.77,681.34 L803.09,681.64 L809.42,681.95 L815.74,682.25 L822.07,682.56 L828.39,682.87 L834.72,683.18 L841.04,683.50 L847.36,683.81 L853.69,684.13 L860.01,684.45 L866.34,684.77 L872.66,685.09 L878.98,685.42 L885.31,685.74 L891.63,686.07 L897.96,686.40 L904.28,686.73 L910.60,687.06 L916.93,687.40 L923.25,687.73 L929.58,688.07 L935.90,688.41" fill="none" stroke="#444444" stroke-width="3.0" stroke-linejoin="round"/>
<line x1="154.30" y1="802.50" x2="1053.30" y2="802.50" stroke="#7c7c7c" stroke-width="1.35"/>
<line x1="154.30" y1="846.50" x2="1053.30" y2="846.50" stroke="#7c7c7c" stroke-width="1.35"/>
<line x1="154.30" y1="891.50" x2="1053.30" y2="891.50" stroke="#7c7c7c" stroke-width="1.35"/>
<line x1="154.30" y1="936.50" x2="1053.30" y2="936.50" stroke="#7c7c7c" stroke-width="1.35"/>
<line x1="154.30" y1="981.50" x2="1053.30" y2="981.50" stroke="#7c7c7c" stroke-width="1.35"/>
<line x1="159.60" y1="1026.50" x2="1053.30" y2="1026.50" stroke="#7c7c7c" stroke-width="1.35"/>
<line x1="159.50" y1="802.20" x2="159.50" y2="1031.50" stroke="#7c7c7c" stroke-width="1.35"/>
<line x1="215.50" y1="802.20" x2="215.50" y2="1031.50" stroke="#7c7c7c" stroke-width="1.35"/>
<line x1="270.50" y1="802.20" x2="270.50" y2="1031.50" stroke="#7c7c7c" stroke-width="1.35"/>
<line x1="325.50" y1="802.20" x2="325.50" y2="1031.50" stroke="#7c7c7c" stroke-width="1.35"/>
<line x1="381.50" y1="802.20" x2="381.50" y2="1031.50" stroke="#7c7c7c" stroke-width="1.35"/>
<line x1="436.50" y1="802.20" x2="436.50" y2="1031.50" stroke="#7c7c7c" stroke-width="1.35"/>
<line x1="493.50" y1="802.20" x2="493.50" y2="1031.50" stroke="#7c7c7c" stroke-width="1.35"/>
<line x1="548.50" y1="802.20" x2="548.50" y2="1031.50" stroke="#7c7c7c" stroke-width="1.35"/>
<line x1="603.50" y1="802.20" x2="603.50" y2="1031.50" stroke="#7c7c7c" stroke-width="1.35"/>
<line x1="659.50" y1="802.20" x2="659.50" y2="1031.50" stroke="#7c7c7c" stroke-width="1.35"/>
<line x1="714.50" y1="802.20" x2="714.50" y2="1031.50" stroke="#7c7c7c" stroke-width="1.35"/>
<line x1="770.50" y1="802.20" x2="770.50" y2="1031.50" stroke="#7c7c7c" stroke-width="1.35"/>
<line x1="824.50" y1="802.20" x2="824.50" y2="1031.50" stroke="#7c7c7c" stroke-width="1.35"/>
<line x1="880.50" y1="802.20" x2="880.50" y2="1031.50" stroke="#7c7c7c" stroke-width="1.35"/>
<line x1="936.50" y1="802.20" x2="936.50" y2="1031.50" stroke="#7c7c7c" stroke-width="1.35"/>
<line x1="991.50" y1="802.20" x2="991.50" y2="1031.50" stroke="#7c7c7c" stroke-width="1.35"/>
<line x1="1047.50" y1="802.20" x2="1047.50" y2="1031.50" stroke="#7c7c7c" stroke-width="1.35"/>
<path d="M161.00,1027.34 L168.06,1021.75 L175.12,1016.35 L182.18,1011.16 L189.25,1006.15 L196.31,1001.32 L203.37,996.67 L210.43,992.18 L217.49,987.86 L224.55,983.68 L231.62,979.65 L238.68,975.76 L245.74,972.00 L252.80,968.37 L259.86,964.86 L266.92,961.47 L273.98,958.19 L281.05,955.02 L288.11,951.95 L295.17,948.97 L302.23,946.09 L309.29,943.30 L316.35,940.59 L323.42,937.97 L330.48,935.42 L337.54,932.95 L344.60,930.55 L351.66,928.22 L358.72,925.95 L365.78,923.74 L372.85,921.60 L379.91,919.52 L386.97,917.49 L394.03,915.52 L401.09,913.59 L408.15,911.72 L415.22,909.90 L422.28,908.13 L429.34,906.40 L436.40,904.72" fill="none" stroke="#444444" stroke-width="1.7" stroke-linejoin="round"/>
<path d="M436.40,904.72 L442.72,903.25 L449.04,901.82 L455.35,900.42 L461.67,899.05 L467.99,897.72 L474.31,896.42 L480.62,895.15 L486.94,893.92 L493.26,892.71 L499.58,891.54 L505.89,890.40 L512.21,889.29 L518.53,888.21 L524.85,887.16 L531.17,886.14 L537.48,885.16 L543.80,884.20 L550.12,883.28 L556.44,882.39 L562.75,881.52 L569.07,880.70 L575.39,879.90 L581.71,879.13 L588.03,878.40 L594.34,877.70 L600.66,877.04 L606.98,876.41 L613.30,875.81 L619.61,875.24 L625.93,874.71 L632.25,874.21 L638.57,873.75 L644.88,873.33 L651.20,872.94 L657.52,872.58 L663.84,872.26 L670.16,871.98 L676.47,871.74 L682.79,871.53 L689.11,871.35 L695.43,871.22 L701.74,871.12 L708.06,871.06 L714.38,871.04 L720.70,871.05 L727.02,871.10 L733.33,871.19 L739.65,871.31 L745.97,871.48 L752.29,871.67 L758.60,871.91 L764.92,872.18 L771.24,872.49 L777.56,872.83 L783.87,873.21 L790.19,873.62 L796.51,874.06 L802.83,874.54 L809.15,875.05 L815.46,875.59 L821.78,876.17 L828.10,876.77 L834.42,877.40 L840.73,878.05 L847.05,878.74 L853.37,879.44 L859.69,880.18 L866.01,880.93 L872.32,881.70 L878.64,882.49 L884.96,883.30 L891.28,884.12 L897.59,884.95 L903.91,885.79 L910.23,886.65 L916.55,887.50 L922.86,888.36 L929.18,889.22 L935.50,890.08" fill="none" stroke="#444444" stroke-width="3.0" stroke-linejoin="round"/>
<path d="M161.75,984.90 L168.79,984.42 L175.83,983.91 L182.88,983.36 L189.92,982.78 L196.96,982.18 L204.00,981.54 L211.05,980.88 L218.09,980.19 L225.13,979.49 L232.17,978.76 L239.22,978.01 L246.26,977.25 L253.30,976.47 L260.34,975.67 L267.38,974.86 L274.43,974.04 L281.47,973.21 L288.51,972.37 L295.55,971.52 L302.60,970.66 L309.64,969.79 L316.68,968.92 L323.72,968.04 L330.77,967.16 L337.81,966.28 L344.85,965.39 L351.89,964.50 L358.93,963.61 L365.98,962.73 L373.02,961.84 L380.06,960.95 L387.10,960.06 L394.15,959.18 L401.19,958.30 L408.23,957.42 L415.27,956.55 L422.32,955.68 L429.36,954.81 L436.40,953.95" fill="none" stroke="#444444" stroke-width="1.7" stroke-linejoin="round"/>
<path d="M436.40,953.95 L442.72,953.19 L449.04,952.42 L455.35,951.67 L461.67,950.91 L467.99,950.16 L474.31,949.42 L480.62,948.68 L486.94,947.95 L493.26,947.22 L499.58,946.50 L505.89,945.79 L512.21,945.08 L518.53,944.37 L524.85,943.67 L531.17,942.98 L537.48,942.29 L543.80,941.61 L550.12,940.94 L556.44,940.27 L562.75,939.61 L569.07,938.96 L575.39,938.31 L581.71,937.66 L588.03,937.03 L594.34,936.40 L600.66,935.77 L606.98,935.15 L613.30,934.54 L619.61,933.93 L625.93,933.33 L632.25,932.74 L638.57,932.15 L644.88,931.57 L651.20,930.99 L657.52,930.42 L663.84,929.86 L670.16,929.30 L676.47,928.75 L682.79,928.20 L689.11,927.66 L695.43,927.12 L701.74,926.59 L708.06,926.07 L714.38,925.55 L720.70,925.04 L727.02,924.53 L733.33,924.04 L739.65,923.54 L745.97,923.05 L752.29,922.57 L758.60,922.10 L764.92,921.63 L771.24,921.17 L777.56,920.71 L783.87,920.26 L790.19,919.82 L796.51,919.39 L802.83,918.96 L809.15,918.54 L815.46,918.13 L821.78,917.73 L828.10,917.33 L834.42,916.94 L840.73,916.56 L847.05,916.19 L853.37,915.83 L859.69,915.48 L866.01,915.14 L872.32,914.81 L878.64,914.49 L884.96,914.18 L891.28,913.88 L897.59,913.60 L903.91,913.33 L910.23,913.07 L916.55,912.82 L922.86,912.59 L929.18,912.37 L935.50,912.17" fill="none" stroke="#444444" stroke-width="3.0" stroke-linejoin="round"/>
<line x1="154.30" y1="1100.50" x2="1053.30" y2="1100.50" stroke="#7c7c7c" stroke-width="1.35"/>
<line x1="154.30" y1="1145.50" x2="1053.30" y2="1145.50" stroke="#7c7c7c" stroke-width="1.35"/>
<line x1="154.30" y1="1190.50" x2="1053.30" y2="1190.50" stroke="#7c7c7c" stroke-width="1.35"/>
<line x1="154.30" y1="1236.50" x2="1053.30" y2="1236.50" stroke="#7c7c7c" stroke-width="1.35"/>
<line x1="154.30" y1="1280.50" x2="1053.30" y2="1280.50" stroke="#7c7c7c" stroke-width="1.35"/>
<line x1="159.60" y1="1325.50" x2="1053.30" y2="1325.50" stroke="#7c7c7c" stroke-width="1.35"/>
<line x1="159.50" y1="1100.30" x2="159.50" y2="1330.30" stroke="#7c7c7c" stroke-width="1.35"/>
<line x1="215.50" y1="1100.30" x2="215.50" y2="1330.30" stroke="#7c7c7c" stroke-width="1.35"/>
<line x1="270.50" y1="1100.30" x2="270.50" y2="1330.30" stroke="#7c7c7c" stroke-width="1.35"/>
<line x1="325.50" y1="1100.30" x2="325.50" y2="1330.30" stroke="#7c7c7c" stroke-width="1.35"/>
<line x1="381.50" y1="1100.30" x2="381.50" y2="1330.30" stroke="#7c7c7c" stroke-width="1.35"/>
<line x1="436.50" y1="1100.30" x2="436.50" y2="1330.30" stroke="#7c7c7c" stroke-width="1.35"/>
<line x1="493.50" y1="1100.30" x2="493.50" y2="1330.30" stroke="#7c7c7c" stroke-width="1.35"/>
<line x1="548.50" y1="1100.30" x2="548.50" y2="1330.30" stroke="#7c7c7c" stroke-width="1.35"/>
<line x1="603.50" y1="1100.30" x2="603.50" y2="1330.30" stroke="#7c7c7c" stroke-width="1.35"/>
<line x1="659.50" y1="1100.30" x2="659.50" y2="1330.30" stroke="#7c7c7c" stroke-width="1.35"/>
<line x1="714.50" y1="1100.30" x2="714.50" y2="1330.30" stroke="#7c7c7c" stroke-width="1.35"/>
<line x1="770.50" y1="1100.30" x2="770.50" y2="1330.30" stroke="#7c7c7c" stroke-width="1.35"/>
<line x1="824.50" y1="1100.30" x2="824.50" y2="1330.30" stroke="#7c7c7c" stroke-width="1.35"/>
<line x1="880.50" y1="1100.30" x2="880.50" y2="1330.30" stroke="#7c7c7c" stroke-width="1.35"/>
<line x1="936.50" y1="1100.30" x2="936.50" y2="1330.30" stroke="#7c7c7c" stroke-width="1.35"/>
<line x1="991.50" y1="1100.30" x2="991.50" y2="1330.30" stroke="#7c7c7c" stroke-width="1.35"/>
<line x1="1047.50" y1="1100.30" x2="1047.50" y2="1330.30" stroke="#7c7c7c" stroke-width="1.35"/>
<rect x="213.40" y="1281.30" width="3.20" height="21.20" fill="#ffffff"/>
<path d="M160.50,1167.51 L167.57,1167.59 L174.64,1167.68 L181.71,1167.79 L188.78,1167.90 L195.85,1168.03 L202.92,1168.16 L209.99,1168.30 L217.06,1168.45 L224.13,1168.60 L231.21,1168.75 L238.28,1168.90 L245.35,1169.06 L252.42,1169.21 L259.49,1169.37 L266.56,1169.52 L273.63,1169.67 L280.70,1169.82 L287.77,1169.96 L294.84,1170.11 L301.91,1170.25 L308.98,1170.38 L316.05,1170.51 L323.12,1170.64 L330.19,1170.76 L337.26,1170.88 L344.33,1171.00 L351.40,1171.11 L358.47,1171.22 L365.54,1171.33 L372.62,1171.44 L379.69,1171.54 L386.76,1171.64 L393.83,1171.75 L400.90,1171.85 L407.97,1171.95 L415.04,1172.06 L422.11,1172.16 L429.18,1172.27 L436.25,1172.39" fill="none" stroke="#444444" stroke-width="1.7" stroke-linejoin="round"/>
<path d="M436.25,1172.39 L442.57,1172.49 L448.89,1172.60 L455.21,1172.72 L461.53,1172.84 L467.85,1172.96 L474.17,1173.10 L480.49,1173.24 L486.81,1173.39 L493.13,1173.55 L499.45,1173.72 L505.77,1173.89 L512.09,1174.09 L518.41,1174.29 L524.72,1174.50 L531.04,1174.73 L537.36,1174.98 L543.68,1175.24 L550.00,1175.51 L556.32,1175.80 L562.64,1176.11 L568.96,1176.44 L575.28,1176.79 L581.60,1177.15 L587.92,1177.54 L594.24,1177.95 L600.56,1178.37 L606.88,1178.83 L613.20,1179.30 L619.52,1179.80 L625.84,1180.33 L632.16,1180.87 L638.48,1181.45 L644.80,1182.05 L651.12,1182.68 L657.44,1183.34 L663.76,1184.02 L670.08,1184.73 L676.40,1185.47 L682.72,1186.24 L689.03,1187.05 L695.35,1187.88 L701.67,1188.74 L707.99,1189.63 L714.31,1190.56 L720.63,1191.51 L726.95,1192.50 L733.27,1193.52 L739.59,1194.57 L745.91,1195.65 L752.23,1196.77 L758.55,1197.91 L764.87,1199.09 L771.19,1200.30 L777.51,1201.55 L783.83,1202.82 L790.15,1204.13 L796.47,1205.47 L802.79,1206.83 L809.11,1208.23 L815.43,1209.66 L821.75,1211.12 L828.07,1212.61 L834.39,1214.12 L840.71,1215.66 L847.03,1217.23 L853.34,1218.83 L859.66,1220.45 L865.98,1222.10 L872.30,1223.76 L878.62,1225.45 L884.94,1227.17 L891.26,1228.90 L897.58,1230.65 L903.90,1232.41 L910.22,1234.19 L916.54,1235.99 L922.86,1237.80 L929.18,1239.62 L935.50,1241.45" fill="none" stroke="#444444" stroke-width="3.0" stroke-linejoin="round"/>
<path d="M161.50,1304.11 L168.54,1304.07 L175.59,1304.06 L182.63,1304.06 L189.68,1304.09 L196.72,1304.13 L203.77,1304.19 L210.81,1304.26 L217.86,1304.34 L224.90,1304.42 L231.95,1304.51 L238.99,1304.61 L246.04,1304.70 L253.08,1304.80 L260.13,1304.89 L267.17,1304.98 L274.22,1305.06 L281.26,1305.14 L288.31,1305.21 L295.35,1305.27 L302.40,1305.32 L309.44,1305.36 L316.49,1305.39 L323.53,1305.41 L330.58,1305.41 L337.62,1305.40 L344.67,1305.38 L351.71,1305.34 L358.76,1305.29 L365.80,1305.22 L372.85,1305.14 L379.89,1305.04 L386.94,1304.93 L393.98,1304.80 L401.03,1304.65 L408.07,1304.49 L415.12,1304.31 L422.16,1304.11 L429.21,1303.90 L436.25,1303.67" fill="none" stroke="#444444" stroke-width="1.7" stroke-linejoin="round"/>
<path d="M436.25,1303.67 L442.57,1303.45 L448.89,1303.21 L455.21,1302.97 L461.53,1302.71 L467.85,1302.44 L474.17,1302.15 L480.49,1301.85 L486.81,1301.54 L493.13,1301.21 L499.45,1300.88 L505.77,1300.53 L512.09,1300.16 L518.41,1299.79 L524.72,1299.40 L531.04,1299.00 L537.36,1298.58 L543.68,1298.15 L550.00,1297.71 L556.32,1297.26 L562.64,1296.79 L568.96,1296.31 L575.28,1295.82 L581.60,1295.31 L587.92,1294.79 L594.24,1294.25 L600.56,1293.69 L606.88,1293.13 L613.20,1292.54 L619.52,1291.94 L625.84,1291.32 L632.16,1290.69 L638.48,1290.04 L644.80,1289.37 L651.12,1288.67 L657.44,1287.96 L663.76,1287.23 L670.08,1286.47 L676.40,1285.69 L682.72,1284.89 L689.03,1284.06 L695.35,1283.21 L701.67,1282.32 L707.99,1281.41 L714.31,1280.47 L720.63,1279.49 L726.95,1278.48 L733.27,1277.43 L739.59,1276.35 L745.91,1275.22 L752.23,1274.06 L758.55,1272.85 L764.87,1271.60 L771.19,1270.30 L777.51,1268.95 L783.83,1267.54 L790.15,1266.08 L796.47,1264.57 L802.79,1262.99 L809.11,1261.35 L815.43,1259.64 L821.75,1257.86 L828.07,1256.01 L834.39,1254.09 L840.71,1252.08 L847.03,1249.99 L853.34,1247.82 L859.66,1245.55 L865.98,1243.19 L872.30,1240.73 L878.62,1238.17 L884.94,1235.50 L891.26,1232.72 L897.58,1229.83 L903.90,1226.81 L910.22,1223.67 L916.54,1220.39 L922.86,1216.98 L929.18,1213.43 L935.50,1209.73" fill="none" stroke="#444444" stroke-width="3.0" stroke-linejoin="round"/>
<line x1="159.40" y1="1387.50" x2="1051.00" y2="1387.50" stroke="#7c7c7c" stroke-width="1.35"/>
<line x1="159.50" y1="1387.20" x2="159.50" y2="1392.00" stroke="#7c7c7c" stroke-width="1.35"/>
<line x1="209.50" y1="1387.20" x2="209.50" y2="1392.00" stroke="#7c7c7c" stroke-width="1.35"/>
<line x1="259.50" y1="1387.20" x2="259.50" y2="1392.00" stroke="#7c7c7c" stroke-width="1.35"/>
<line x1="309.50" y1="1387.20" x2="309.50" y2="1392.00" stroke="#7c7c7c" stroke-width="1.35"/>
<line x1="359.50" y1="1387.20" x2="359.50" y2="1392.00" stroke="#7c7c7c" stroke-width="1.35"/>
<line x1="408.50" y1="1387.20" x2="408.50" y2="1392.00" stroke="#7c7c7c" stroke-width="1.35"/>
<line x1="458.50" y1="1387.20" x2="458.50" y2="1392.00" stroke="#7c7c7c" stroke-width="1.35"/>
<line x1="508.50" y1="1387.20" x2="508.50" y2="1392.00" stroke="#7c7c7c" stroke-width="1.35"/>
<line x1="558.50" y1="1387.20" x2="558.50" y2="1392.00" stroke="#7c7c7c" stroke-width="1.35"/>
<line x1="608.50" y1="1387.20" x2="608.50" y2="1392.00" stroke="#7c7c7c" stroke-width="1.35"/>
<line x1="658.50" y1="1387.20" x2="658.50" y2="1392.00" stroke="#7c7c7c" stroke-width="1.35"/>
<line x1="707.50" y1="1387.20" x2="707.50" y2="1392.00" stroke="#7c7c7c" stroke-width="1.35"/>
<line x1="757.50" y1="1387.20" x2="757.50" y2="1392.00" stroke="#7c7c7c" stroke-width="1.35"/>
<line x1="807.50" y1="1387.20" x2="807.50" y2="1392.00" stroke="#7c7c7c" stroke-width="1.35"/>
<line x1="857.50" y1="1387.20" x2="857.50" y2="1392.00" stroke="#7c7c7c" stroke-width="1.35"/>
<line x1="907.50" y1="1387.20" x2="907.50" y2="1392.00" stroke="#7c7c7c" stroke-width="1.35"/>
<line x1="957.50" y1="1387.20" x2="957.50" y2="1392.00" stroke="#7c7c7c" stroke-width="1.35"/>
<text transform="translate(120.00,48.30) scale(1.232,1)" font-size="16.86" fill="#1e1e1e">H</text>
<text transform="translate(110.49,68.00) scale(1.080,1)" font-size="17.00" letter-spacing="0.61" fill="#1e1e1e">[m]</text>
<text transform="translate(1068.84,48.70) scale(1.053,1)" font-size="18.02" fill="#1e1e1e">H</text>
<text transform="translate(1063.43,67.80) scale(1.080,1)" font-size="16.50" letter-spacing="1.25" fill="#1e1e1e">[ft]</text>
<text transform="translate(859.81,102.13) scale(0.989,1)" font-size="17.70" fill="#1e1e1e">CDL20/CDLF20</text>
<text transform="translate(154.12,42.29) scale(1.070,1)" font-size="17.40" fill="#1e1e1e">0</text>
<text transform="translate(275.84,42.29) scale(1.070,1)" font-size="17.40" fill="#1e1e1e">20</text>
<text transform="translate(403.20,42.29) scale(1.070,1)" font-size="17.40" fill="#1e1e1e">40</text>
<text transform="translate(530.54,42.29) scale(1.070,1)" font-size="17.40" fill="#1e1e1e">60</text>
<text transform="translate(657.40,42.29) scale(1.070,1)" font-size="17.40" fill="#1e1e1e">80</text>
<text transform="translate(774.72,42.29) scale(1.070,1)" font-size="17.40" fill="#1e1e1e">100</text>
<text transform="translate(907.12,42.29) scale(1.070,1)" font-size="17.40" fill="#1e1e1e">120</text>
<text x="956.61" y="46.2" font-size="14.5" letter-spacing="1.90" fill="#1e1e1e">Q[US.GPM]</text>
<text transform="translate(109.87,711.29) scale(1.070,1)" font-size="17.40" fill="#1e1e1e">0</text>
<text transform="translate(109.66,659.59) scale(1.070,1)" font-size="17.40" fill="#1e1e1e">20</text>
<text transform="translate(110.17,607.79) scale(1.070,1)" font-size="17.40" fill="#1e1e1e">40</text>
<text transform="translate(109.65,555.89) scale(1.070,1)" font-size="17.40" fill="#1e1e1e">60</text>
<text transform="translate(109.79,504.39) scale(1.070,1)" font-size="17.40" fill="#1e1e1e">80</text>
<text transform="translate(109.18,452.49) scale(1.070,1)" font-size="17.40" fill="#1e1e1e">100</text>
<text transform="translate(109.18,399.59) scale(1.070,1)" font-size="17.40" fill="#1e1e1e">120</text>
<text transform="translate(109.18,347.39) scale(1.070,1)" font-size="17.40" fill="#1e1e1e">140</text>
<text transform="translate(109.18,296.29) scale(1.070,1)" font-size="17.40" fill="#1e1e1e">160</text>
<text transform="translate(109.18,244.09) scale(1.070,1)" font-size="17.40" fill="#1e1e1e">180</text>
<text transform="translate(109.66,192.59) scale(1.070,1)" font-size="17.40" fill="#1e1e1e">200</text>
<text transform="translate(109.66,140.09) scale(1.070,1)" font-size="17.40" fill="#1e1e1e">220</text>
<text transform="translate(154.64,728.61) scale(1.070,1)" font-size="16.00" fill="#1e1e1e">0</text>
<text transform="translate(207.54,728.69) scale(1.070,1)" font-size="16.00" fill="#1e1e1e">2</text>
<text transform="translate(265.89,728.60) scale(1.070,1)" font-size="16.00" fill="#1e1e1e">4</text>
<text transform="translate(318.48,728.61) scale(1.070,1)" font-size="16.00" fill="#1e1e1e">6</text>
<text transform="translate(376.84,728.61) scale(1.070,1)" font-size="16.00" fill="#1e1e1e">8</text>
<text transform="translate(425.96,728.61) scale(1.070,1)" font-size="16.00" fill="#1e1e1e">10</text>
<text transform="translate(483.46,728.69) scale(1.070,1)" font-size="16.00" fill="#1e1e1e">12</text>
<text transform="translate(536.78,728.60) scale(1.070,1)" font-size="16.00" fill="#1e1e1e">14</text>
<text transform="translate(589.90,728.61) scale(1.070,1)" font-size="16.00" fill="#1e1e1e">16</text>
<text transform="translate(648.40,728.61) scale(1.070,1)" font-size="16.00" fill="#1e1e1e">18</text>
<text transform="translate(706.38,728.61) scale(1.070,1)" font-size="16.00" fill="#1e1e1e">20</text>
<text transform="translate(759.28,728.69) scale(1.070,1)" font-size="16.00" fill="#1e1e1e">22</text>
<text transform="translate(817.50,728.69) scale(1.070,1)" font-size="16.00" fill="#1e1e1e">24</text>
<text transform="translate(870.62,728.61) scale(1.070,1)" font-size="16.00" fill="#1e1e1e">26</text>
<text transform="translate(928.52,728.61) scale(1.070,1)" font-size="16.00" fill="#1e1e1e">28</text>
<text transform="translate(980.39,728.20) scale(1.169,1)" font-size="16.50" fill="#1e1e1e">Q[m³/h]</text>
<text transform="translate(1062.57,706.19) scale(1.070,1)" font-size="17.40" fill="#1e1e1e">0.0</text>
<text transform="translate(1061.88,627.49) scale(1.070,1)" font-size="17.40" fill="#1e1e1e">100</text>
<text transform="translate(1062.36,548.89) scale(1.070,1)" font-size="17.40" fill="#1e1e1e">200</text>
<text transform="translate(1062.59,469.89) scale(1.070,1)" font-size="17.40" fill="#1e1e1e">300</text>
<text transform="translate(1062.87,391.09) scale(1.070,1)" font-size="17.40" fill="#1e1e1e">400</text>
<text transform="translate(1062.55,311.89) scale(1.070,1)" font-size="17.40" fill="#1e1e1e">500</text>
<text transform="translate(1062.35,233.49) scale(1.070,1)" font-size="17.40" fill="#1e1e1e">600</text>
<text transform="translate(1062.35,154.44) scale(1.070,1)" font-size="17.40" fill="#1e1e1e">700</text>
<rect x="176.3" y="648.35" width="8.8" height="1.7" fill="#1e1e1e"/>
<text transform="translate(187.29,653.28) scale(1.045,1)" font-size="16.50" fill="#1e1e1e">10</text>
<rect x="176.3" y="611.95" width="8.8" height="1.7" fill="#1e1e1e"/>
<text transform="translate(187.73,616.88) scale(1.045,1)" font-size="16.50" fill="#1e1e1e">20</text>
<rect x="176.3" y="575.55" width="8.8" height="1.7" fill="#1e1e1e"/>
<text transform="translate(187.94,580.48) scale(1.045,1)" font-size="16.50" fill="#1e1e1e">30</text>
<rect x="176.3" y="539.15" width="8.8" height="1.7" fill="#1e1e1e"/>
<text transform="translate(188.20,544.08) scale(1.045,1)" font-size="16.50" fill="#1e1e1e">40</text>
<rect x="176.3" y="502.75" width="8.8" height="1.7" fill="#1e1e1e"/>
<text transform="translate(187.91,507.68) scale(1.045,1)" font-size="16.50" fill="#1e1e1e">50</text>
<rect x="176.3" y="466.35" width="8.8" height="1.7" fill="#1e1e1e"/>
<text transform="translate(187.72,471.28) scale(1.045,1)" font-size="16.50" fill="#1e1e1e">60</text>
<rect x="176.3" y="429.95" width="8.8" height="1.7" fill="#1e1e1e"/>
<text transform="translate(187.72,434.88) scale(1.045,1)" font-size="16.50" fill="#1e1e1e">70</text>
<rect x="176.3" y="393.55" width="8.8" height="1.7" fill="#1e1e1e"/>
<text transform="translate(187.85,398.48) scale(1.045,1)" font-size="16.50" fill="#1e1e1e">80</text>
<rect x="176.3" y="357.15" width="8.8" height="1.7" fill="#1e1e1e"/>
<text transform="translate(187.79,362.08) scale(1.045,1)" font-size="16.50" fill="#1e1e1e">90</text>
<rect x="176.3" y="320.75" width="8.8" height="1.7" fill="#1e1e1e"/>
<text transform="translate(187.29,325.68) scale(1.045,1)" font-size="16.50" fill="#1e1e1e">100</text>
<rect x="176.3" y="284.35" width="8.8" height="1.7" fill="#1e1e1e"/>
<text transform="translate(187.29,289.28) scale(1.045,1)" font-size="16.50" fill="#1e1e1e">110</text>
<rect x="176.3" y="247.95" width="8.8" height="1.7" fill="#1e1e1e"/>
<text transform="translate(187.29,252.88) scale(1.045,1)" font-size="16.50" fill="#1e1e1e">120</text>
<rect x="176.3" y="211.55" width="8.8" height="1.7" fill="#1e1e1e"/>
<text transform="translate(187.29,216.48) scale(1.045,1)" font-size="16.50" fill="#1e1e1e">130</text>
<rect x="176.3" y="175.15" width="8.8" height="1.7" fill="#1e1e1e"/>
<text transform="translate(187.29,180.08) scale(1.045,1)" font-size="16.50" fill="#1e1e1e">140</text>
<rect x="176.3" y="138.75" width="8.8" height="1.7" fill="#1e1e1e"/>
<text transform="translate(187.29,143.68) scale(1.045,1)" font-size="16.50" fill="#1e1e1e">150</text>
<rect x="176.3" y="102.35" width="8.8" height="1.7" fill="#1e1e1e"/>
<text transform="translate(187.29,107.28) scale(1.045,1)" font-size="16.50" fill="#1e1e1e">160</text>
<rect x="176.3" y="65.95" width="8.8" height="1.7" fill="#1e1e1e"/>
<text transform="translate(187.29,70.88) scale(1.045,1)" font-size="16.50" fill="#1e1e1e">170</text>
<text transform="translate(115.11,797.40) scale(1.022,1)" font-size="17.76" fill="#1e1e1e">P2</text>
<text transform="translate(104.83,816.00) scale(1.080,1)" font-size="16.50" letter-spacing="1.44" fill="#1e1e1e">[kw]</text>
<text transform="translate(111.24,854.19) scale(1.070,1)" font-size="17.40" fill="#1e1e1e">1.6</text>
<text transform="translate(111.35,898.57) scale(1.070,1)" font-size="17.40" fill="#1e1e1e">1.2</text>
<text transform="translate(111.23,942.39) scale(1.070,1)" font-size="17.40" fill="#1e1e1e">0.8</text>
<text transform="translate(110.96,986.69) scale(1.070,1)" font-size="17.40" fill="#1e1e1e">0.4</text>
<text transform="translate(111.15,1030.49) scale(1.070,1)" font-size="17.40" fill="#1e1e1e">0.0</text>
<text transform="translate(1063.75,799.04) scale(1.069,1)" font-size="16.48" fill="#1e1e1e">Eta</text>
<text transform="translate(1063.93,818.20) scale(1.080,1)" font-size="16.50" letter-spacing="1.80" fill="#1e1e1e">[%]</text>
<text transform="translate(1064.99,857.29) scale(1.070,1)" font-size="17.40" fill="#1e1e1e">80</text>
<text transform="translate(1064.85,901.59) scale(1.070,1)" font-size="17.40" fill="#1e1e1e">60</text>
<text transform="translate(1065.37,945.79) scale(1.070,1)" font-size="17.40" fill="#1e1e1e">40</text>
<text transform="translate(1064.86,990.59) scale(1.070,1)" font-size="17.40" fill="#1e1e1e">20</text>
<text transform="translate(1065.07,1032.99) scale(1.070,1)" font-size="17.40" fill="#1e1e1e">0</text>
<text transform="translate(150.04,1053.51) scale(1.070,1)" font-size="16.00" fill="#1e1e1e">0</text>
<text transform="translate(202.94,1053.59) scale(1.070,1)" font-size="16.00" fill="#1e1e1e">2</text>
<text transform="translate(260.69,1053.50) scale(1.070,1)" font-size="16.00" fill="#1e1e1e">4</text>
<text transform="translate(314.48,1053.51) scale(1.070,1)" font-size="16.00" fill="#1e1e1e">6</text>
<text transform="translate(372.24,1053.51) scale(1.070,1)" font-size="16.00" fill="#1e1e1e">8</text>
<text transform="translate(420.76,1053.51) scale(1.070,1)" font-size="16.00" fill="#1e1e1e">10</text>
<text transform="translate(479.01,1053.59) scale(1.070,1)" font-size="16.00" fill="#1e1e1e">12</text>
<text transform="translate(531.98,1053.50) scale(1.070,1)" font-size="16.00" fill="#1e1e1e">14</text>
<text transform="translate(585.20,1053.51) scale(1.070,1)" font-size="16.00" fill="#1e1e1e">16</text>
<text transform="translate(643.30,1053.51) scale(1.070,1)" font-size="16.00" fill="#1e1e1e">18</text>
<text transform="translate(701.28,1053.51) scale(1.070,1)" font-size="16.00" fill="#1e1e1e">20</text>
<text transform="translate(754.38,1053.59) scale(1.070,1)" font-size="16.00" fill="#1e1e1e">22</text>
<text transform="translate(811.90,1053.59) scale(1.070,1)" font-size="16.00" fill="#1e1e1e">24</text>
<text transform="translate(865.22,1053.51) scale(1.070,1)" font-size="16.00" fill="#1e1e1e">26</text>
<text transform="translate(923.62,1053.51) scale(1.070,1)" font-size="16.00" fill="#1e1e1e">28</text>
<text transform="translate(974.97,1053.60) scale(1.193,1)" font-size="16.50" fill="#1e1e1e">Q[m³/h]</text>
<text transform="translate(891.83,877.34) scale(1.068,1)" font-size="16.77" fill="#1e1e1e">Eta</text>
<text transform="translate(896.00,933.30) scale(1.104,1)" font-size="16.61" fill="#1e1e1e">P2</text>
<text transform="translate(114.41,1095.30) scale(1.137,1)" font-size="17.01" fill="#1e1e1e">H</text>
<text transform="translate(114.33,1114.40) scale(1.080,1)" font-size="16.50" letter-spacing="1.29" fill="#1e1e1e">[m]</text>
<text transform="translate(116.27,1154.31) scale(1.070,1)" font-size="16.88" fill="#1e1e1e">16</text>
<text transform="translate(116.07,1199.59) scale(1.070,1)" font-size="16.88" fill="#1e1e1e">12</text>
<text transform="translate(121.03,1244.31) scale(1.070,1)" font-size="16.88" fill="#1e1e1e">8</text>
<text transform="translate(121.04,1289.31) scale(1.070,1)" font-size="16.88" fill="#1e1e1e">4</text>
<text transform="translate(121.18,1334.31) scale(1.070,1)" font-size="16.88" fill="#1e1e1e">0</text>
<text transform="translate(1053.18,1093.14) scale(1.127,1)" font-size="16.38" fill="#1e1e1e">NPSH</text>
<text transform="translate(1069.03,1109.60) scale(1.080,1)" font-size="16.50" letter-spacing="1.53" fill="#1e1e1e">[m]</text>
<text transform="translate(1069.62,1154.31) scale(1.070,1)" font-size="16.88" fill="#1e1e1e">8</text>
<text transform="translate(1069.48,1198.21) scale(1.070,1)" font-size="16.88" fill="#1e1e1e">6</text>
<text transform="translate(1069.99,1242.01) scale(1.070,1)" font-size="16.88" fill="#1e1e1e">4</text>
<text transform="translate(1069.49,1285.29) scale(1.070,1)" font-size="16.88" fill="#1e1e1e">2</text>
<text transform="translate(1069.69,1328.51) scale(1.070,1)" font-size="16.88" fill="#1e1e1e">0</text>
<text transform="translate(154.64,1352.21) scale(1.070,1)" font-size="16.00" fill="#1e1e1e">0</text>
<text transform="translate(207.54,1352.29) scale(1.070,1)" font-size="16.00" fill="#1e1e1e">2</text>
<text transform="translate(265.89,1352.20) scale(1.070,1)" font-size="16.00" fill="#1e1e1e">4</text>
<text transform="translate(318.48,1352.21) scale(1.070,1)" font-size="16.00" fill="#1e1e1e">6</text>
<text transform="translate(376.84,1352.21) scale(1.070,1)" font-size="16.00" fill="#1e1e1e">8</text>
<text transform="translate(425.96,1352.21) scale(1.070,1)" font-size="16.00" fill="#1e1e1e">10</text>
<text transform="translate(483.46,1352.29) scale(1.070,1)" font-size="16.00" fill="#1e1e1e">12</text>
<text transform="translate(536.78,1352.20) scale(1.070,1)" font-size="16.00" fill="#1e1e1e">14</text>
<text transform="translate(589.90,1352.21) scale(1.070,1)" font-size="16.00" fill="#1e1e1e">16</text>
<text transform="translate(648.40,1352.21) scale(1.070,1)" font-size="16.00" fill="#1e1e1e">18</text>
<text transform="translate(706.38,1352.21) scale(1.070,1)" font-size="16.00" fill="#1e1e1e">20</text>
<text transform="translate(759.28,1352.29) scale(1.070,1)" font-size="16.00" fill="#1e1e1e">22</text>
<text transform="translate(817.50,1352.29) scale(1.070,1)" font-size="16.00" fill="#1e1e1e">24</text>
<text transform="translate(870.62,1352.21) scale(1.070,1)" font-size="16.00" fill="#1e1e1e">26</text>
<text transform="translate(928.52,1352.21) scale(1.070,1)" font-size="16.00" fill="#1e1e1e">28</text>
<text transform="translate(980.77,1352.30) scale(1.190,1)" font-size="16.50" fill="#1e1e1e">Q[m³/h]</text>
<text transform="translate(225.33,1158.59) scale(1.385,1)" font-size="14.09" fill="#1e1e1e">QH</text>
<text transform="translate(189.84,1297.33) scale(0.975,1)" font-size="17.66" fill="#1e1e1e">NPSH</text>
<text transform="translate(154.45,1412.31) scale(1.050,1)" font-size="16.60" fill="#1e1e1e">0</text>
<text transform="translate(254.01,1412.31) scale(1.050,1)" font-size="16.60" fill="#1e1e1e">1</text>
<text transform="translate(355.15,1412.40) scale(1.050,1)" font-size="16.60" fill="#1e1e1e">2</text>
<text transform="translate(455.95,1412.31) scale(1.050,1)" font-size="16.60" fill="#1e1e1e">3</text>
<text transform="translate(551.96,1412.31) scale(1.050,1)" font-size="16.60" fill="#1e1e1e">4</text>
<text transform="translate(652.17,1412.23) scale(1.050,1)" font-size="16.60" fill="#1e1e1e">5</text>
<text transform="translate(752.39,1412.31) scale(1.050,1)" font-size="16.60" fill="#1e1e1e">6</text>
<text transform="translate(859.04,1412.31) scale(1.050,1)" font-size="16.60" fill="#1e1e1e">7</text>
<text transform="translate(948.79,1412.50) scale(1.196,1)" font-size="16.00" fill="#1e1e1e">Q[ l/S]</text>
</svg>
</body></html>
